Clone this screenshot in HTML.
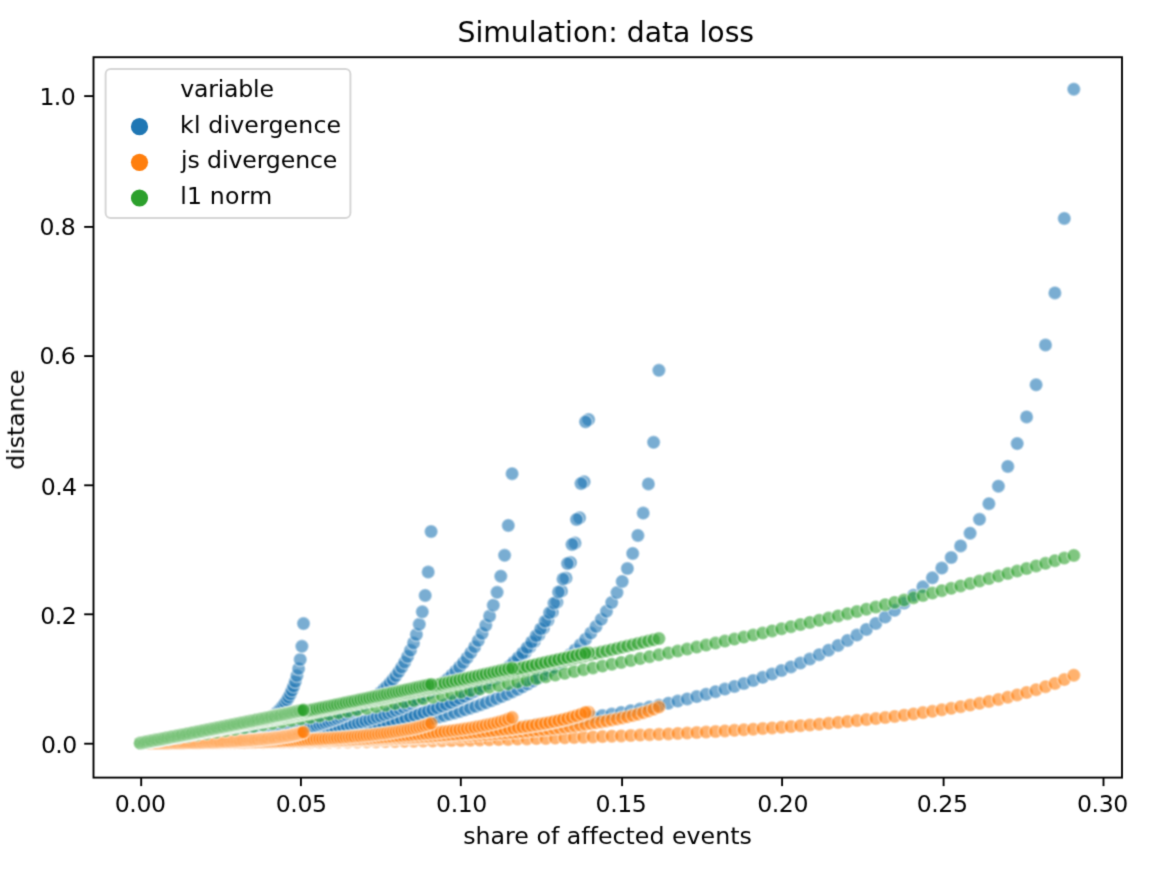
<!DOCTYPE html>
<html><head><meta charset="utf-8"><title>Simulation: data loss</title>
<style>
html,body{margin:0;padding:0;background:#fff;overflow:hidden}
svg{display:block}
text{font-family:"DejaVu Sans","Liberation Sans",sans-serif;fill:#000;font-variant-ligatures:none;font-feature-settings:"liga" 0,"clig" 0}
.t{letter-spacing:-.4px}
.u{letter-spacing:-.6px}
.k{fill:#1f77b4}.j{fill:#ff7f0e}.n{fill:#2ca02c}
g.pts circle{fill-opacity:.6;stroke:#fff;stroke-opacity:0.377;stroke-width:1.8}
</style></head><body>
<svg width="1166" height="872" viewBox="0 0 1166 872">
<defs>
<filter id="fp" x="0" y="0" width="1166" height="872" filterUnits="userSpaceOnUse" color-interpolation-filters="sRGB"><feConvolveMatrix order="3" kernelMatrix="0.06250 0.12500 0.06250 0.12500 0.25000 0.12500 0.06250 0.12500 0.06250" edgeMode="duplicate"/></filter>
<filter id="fa" x="0" y="0" width="1166" height="872" filterUnits="userSpaceOnUse" color-interpolation-filters="sRGB"><feConvolveMatrix order="3" kernelMatrix="0.02041 0.10204 0.02041 0.10204 0.51020 0.10204 0.02041 0.10204 0.02041" edgeMode="duplicate"/></filter>
</defs>
<rect width="1166" height="872" fill="#fff"/>

<g class="pts" filter="url(#fp)">
<g class="k">
<circle cx="140.4" cy="743.0" r="6.75"/>
<circle cx="149.8" cy="743.0" r="6.75"/>
<circle cx="159.3" cy="743.0" r="6.75"/>
<circle cx="168.7" cy="742.9" r="6.75"/>
<circle cx="178.1" cy="742.9" r="6.75"/>
<circle cx="187.5" cy="742.8" r="6.75"/>
<circle cx="197.0" cy="742.7" r="6.75"/>
<circle cx="206.4" cy="742.6" r="6.75"/>
<circle cx="215.8" cy="742.5" r="6.75"/>
<circle cx="225.3" cy="742.4" r="6.75"/>
<circle cx="234.7" cy="742.3" r="6.75"/>
<circle cx="244.1" cy="742.1" r="6.75"/>
<circle cx="253.5" cy="741.9" r="6.75"/>
<circle cx="263.0" cy="741.7" r="6.75"/>
<circle cx="272.4" cy="741.5" r="6.75"/>
<circle cx="281.8" cy="741.3" r="6.75"/>
<circle cx="291.2" cy="741.0" r="6.75"/>
<circle cx="300.7" cy="740.7" r="6.75"/>
<circle cx="310.1" cy="740.4" r="6.75"/>
<circle cx="319.5" cy="740.1" r="6.75"/>
<circle cx="329.0" cy="739.8" r="6.75"/>
<circle cx="338.4" cy="739.4" r="6.75"/>
<circle cx="347.8" cy="739.0" r="6.75"/>
<circle cx="357.2" cy="738.6" r="6.75"/>
<circle cx="366.7" cy="738.1" r="6.75"/>
<circle cx="376.1" cy="737.7" r="6.75"/>
<circle cx="385.5" cy="737.2" r="6.75"/>
<circle cx="395.0" cy="736.6" r="6.75"/>
<circle cx="404.4" cy="736.1" r="6.75"/>
<circle cx="413.8" cy="735.5" r="6.75"/>
<circle cx="423.2" cy="734.9" r="6.75"/>
<circle cx="432.7" cy="734.2" r="6.75"/>
<circle cx="442.1" cy="733.6" r="6.75"/>
<circle cx="451.5" cy="732.8" r="6.75"/>
<circle cx="461.0" cy="732.1" r="6.75"/>
<circle cx="470.4" cy="731.3" r="6.75"/>
<circle cx="479.8" cy="730.5" r="6.75"/>
<circle cx="489.2" cy="729.6" r="6.75"/>
<circle cx="498.7" cy="728.7" r="6.75"/>
<circle cx="508.1" cy="727.8" r="6.75"/>
<circle cx="517.5" cy="726.8" r="6.75"/>
<circle cx="526.9" cy="725.7" r="6.75"/>
<circle cx="536.4" cy="724.6" r="6.75"/>
<circle cx="545.8" cy="723.5" r="6.75"/>
<circle cx="555.2" cy="722.3" r="6.75"/>
<circle cx="564.7" cy="721.1" r="6.75"/>
<circle cx="574.1" cy="719.8" r="6.75"/>
<circle cx="583.5" cy="718.4" r="6.75"/>
<circle cx="592.9" cy="717.0" r="6.75"/>
<circle cx="602.4" cy="715.5" r="6.75"/>
<circle cx="611.8" cy="714.0" r="6.75"/>
<circle cx="621.2" cy="712.4" r="6.75"/>
<circle cx="630.7" cy="710.7" r="6.75"/>
<circle cx="640.1" cy="709.0" r="6.75"/>
<circle cx="649.5" cy="707.1" r="6.75"/>
<circle cx="658.9" cy="705.2" r="6.75"/>
<circle cx="668.4" cy="703.2" r="6.75"/>
<circle cx="677.8" cy="701.1" r="6.75"/>
<circle cx="687.2" cy="698.9" r="6.75"/>
<circle cx="696.7" cy="696.6" r="6.75"/>
<circle cx="706.1" cy="694.2" r="6.75"/>
<circle cx="715.5" cy="691.7" r="6.75"/>
<circle cx="724.9" cy="689.1" r="6.75"/>
<circle cx="734.4" cy="686.4" r="6.75"/>
<circle cx="743.8" cy="683.5" r="6.75"/>
<circle cx="753.2" cy="680.5" r="6.75"/>
<circle cx="762.7" cy="677.3" r="6.75"/>
<circle cx="772.1" cy="674.0" r="6.75"/>
<circle cx="781.5" cy="670.5" r="6.75"/>
<circle cx="790.9" cy="666.9" r="6.75"/>
<circle cx="800.4" cy="663.0" r="6.75"/>
<circle cx="809.8" cy="659.0" r="6.75"/>
<circle cx="819.2" cy="654.7" r="6.75"/>
<circle cx="828.6" cy="650.2" r="6.75"/>
<circle cx="838.1" cy="645.4" r="6.75"/>
<circle cx="847.5" cy="640.4" r="6.75"/>
<circle cx="856.9" cy="635.1" r="6.75"/>
<circle cx="866.4" cy="629.4" r="6.75"/>
<circle cx="875.8" cy="623.4" r="6.75"/>
<circle cx="885.2" cy="617.1" r="6.75"/>
<circle cx="894.6" cy="610.3" r="6.75"/>
<circle cx="904.1" cy="603.0" r="6.75"/>
<circle cx="913.5" cy="595.2" r="6.75"/>
<circle cx="922.9" cy="586.8" r="6.75"/>
<circle cx="932.4" cy="577.8" r="6.75"/>
<circle cx="941.8" cy="568.1" r="6.75"/>
<circle cx="951.2" cy="557.5" r="6.75"/>
<circle cx="960.6" cy="545.9" r="6.75"/>
<circle cx="970.1" cy="533.2" r="6.75"/>
<circle cx="979.5" cy="519.3" r="6.75"/>
<circle cx="988.9" cy="503.7" r="6.75"/>
<circle cx="998.4" cy="486.2" r="6.75"/>
<circle cx="1007.8" cy="466.4" r="6.75"/>
<circle cx="1017.2" cy="443.6" r="6.75"/>
<circle cx="1026.6" cy="416.9" r="6.75"/>
<circle cx="1036.1" cy="384.8" r="6.75"/>
<circle cx="1045.5" cy="345.0" r="6.75"/>
<circle cx="1054.9" cy="292.9" r="6.75"/>
<circle cx="1064.3" cy="218.4" r="6.75"/>
<circle cx="1073.8" cy="89.2" r="6.75"/>
<circle cx="140.4" cy="743.0" r="6.75"/>
<circle cx="145.6" cy="743.0" r="6.75"/>
<circle cx="150.9" cy="743.0" r="6.75"/>
<circle cx="156.1" cy="743.0" r="6.75"/>
<circle cx="161.3" cy="742.9" r="6.75"/>
<circle cx="166.6" cy="742.9" r="6.75"/>
<circle cx="171.8" cy="742.8" r="6.75"/>
<circle cx="177.1" cy="742.8" r="6.75"/>
<circle cx="182.3" cy="742.7" r="6.75"/>
<circle cx="187.5" cy="742.6" r="6.75"/>
<circle cx="192.8" cy="742.5" r="6.75"/>
<circle cx="198.0" cy="742.4" r="6.75"/>
<circle cx="203.2" cy="742.3" r="6.75"/>
<circle cx="208.5" cy="742.2" r="6.75"/>
<circle cx="213.7" cy="742.0" r="6.75"/>
<circle cx="219.0" cy="741.9" r="6.75"/>
<circle cx="224.2" cy="741.7" r="6.75"/>
<circle cx="229.4" cy="741.5" r="6.75"/>
<circle cx="234.7" cy="741.3" r="6.75"/>
<circle cx="239.9" cy="741.1" r="6.75"/>
<circle cx="245.1" cy="740.9" r="6.75"/>
<circle cx="250.4" cy="740.7" r="6.75"/>
<circle cx="255.6" cy="740.4" r="6.75"/>
<circle cx="260.9" cy="740.2" r="6.75"/>
<circle cx="266.1" cy="739.9" r="6.75"/>
<circle cx="271.3" cy="739.6" r="6.75"/>
<circle cx="276.6" cy="739.3" r="6.75"/>
<circle cx="281.8" cy="738.9" r="6.75"/>
<circle cx="287.0" cy="738.6" r="6.75"/>
<circle cx="292.3" cy="738.2" r="6.75"/>
<circle cx="297.5" cy="737.8" r="6.75"/>
<circle cx="302.7" cy="737.4" r="6.75"/>
<circle cx="308.0" cy="737.0" r="6.75"/>
<circle cx="313.2" cy="736.5" r="6.75"/>
<circle cx="318.5" cy="736.1" r="6.75"/>
<circle cx="323.7" cy="735.6" r="6.75"/>
<circle cx="328.9" cy="735.0" r="6.75"/>
<circle cx="334.2" cy="734.5" r="6.75"/>
<circle cx="339.4" cy="733.9" r="6.75"/>
<circle cx="344.6" cy="733.3" r="6.75"/>
<circle cx="349.9" cy="732.7" r="6.75"/>
<circle cx="355.1" cy="732.1" r="6.75"/>
<circle cx="360.4" cy="731.4" r="6.75"/>
<circle cx="365.6" cy="730.7" r="6.75"/>
<circle cx="370.8" cy="730.0" r="6.75"/>
<circle cx="376.1" cy="729.2" r="6.75"/>
<circle cx="381.3" cy="728.4" r="6.75"/>
<circle cx="386.5" cy="727.6" r="6.75"/>
<circle cx="391.8" cy="726.7" r="6.75"/>
<circle cx="397.0" cy="725.8" r="6.75"/>
<circle cx="402.3" cy="724.9" r="6.75"/>
<circle cx="407.5" cy="723.9" r="6.75"/>
<circle cx="412.7" cy="722.9" r="6.75"/>
<circle cx="418.0" cy="721.8" r="6.75"/>
<circle cx="423.2" cy="720.7" r="6.75"/>
<circle cx="428.4" cy="719.5" r="6.75"/>
<circle cx="433.7" cy="718.3" r="6.75"/>
<circle cx="438.9" cy="717.0" r="6.75"/>
<circle cx="444.2" cy="715.7" r="6.75"/>
<circle cx="449.4" cy="714.3" r="6.75"/>
<circle cx="454.6" cy="712.9" r="6.75"/>
<circle cx="459.9" cy="711.4" r="6.75"/>
<circle cx="465.1" cy="709.8" r="6.75"/>
<circle cx="470.3" cy="708.2" r="6.75"/>
<circle cx="475.6" cy="706.5" r="6.75"/>
<circle cx="480.8" cy="704.7" r="6.75"/>
<circle cx="486.0" cy="702.8" r="6.75"/>
<circle cx="491.3" cy="700.8" r="6.75"/>
<circle cx="496.5" cy="698.7" r="6.75"/>
<circle cx="501.8" cy="696.6" r="6.75"/>
<circle cx="507.0" cy="694.3" r="6.75"/>
<circle cx="512.2" cy="691.9" r="6.75"/>
<circle cx="517.5" cy="689.4" r="6.75"/>
<circle cx="522.7" cy="686.8" r="6.75"/>
<circle cx="527.9" cy="684.0" r="6.75"/>
<circle cx="533.2" cy="681.0" r="6.75"/>
<circle cx="538.4" cy="677.9" r="6.75"/>
<circle cx="543.7" cy="674.6" r="6.75"/>
<circle cx="548.9" cy="671.1" r="6.75"/>
<circle cx="554.1" cy="667.4" r="6.75"/>
<circle cx="559.4" cy="663.5" r="6.75"/>
<circle cx="564.6" cy="659.3" r="6.75"/>
<circle cx="569.8" cy="654.8" r="6.75"/>
<circle cx="575.1" cy="650.0" r="6.75"/>
<circle cx="580.3" cy="644.8" r="6.75"/>
<circle cx="585.6" cy="639.2" r="6.75"/>
<circle cx="590.8" cy="633.1" r="6.75"/>
<circle cx="596.0" cy="626.5" r="6.75"/>
<circle cx="601.3" cy="619.3" r="6.75"/>
<circle cx="606.5" cy="611.3" r="6.75"/>
<circle cx="611.7" cy="602.5" r="6.75"/>
<circle cx="617.0" cy="592.6" r="6.75"/>
<circle cx="622.2" cy="581.4" r="6.75"/>
<circle cx="627.4" cy="568.5" r="6.75"/>
<circle cx="632.7" cy="553.4" r="6.75"/>
<circle cx="637.9" cy="535.4" r="6.75"/>
<circle cx="643.2" cy="513.1" r="6.75"/>
<circle cx="648.4" cy="483.9" r="6.75"/>
<circle cx="653.6" cy="442.3" r="6.75"/>
<circle cx="658.9" cy="370.3" r="6.75"/>
<circle cx="140.4" cy="743.0" r="6.75"/>
<circle cx="144.9" cy="743.0" r="6.75"/>
<circle cx="149.5" cy="743.0" r="6.75"/>
<circle cx="154.0" cy="743.0" r="6.75"/>
<circle cx="158.5" cy="742.9" r="6.75"/>
<circle cx="163.0" cy="742.9" r="6.75"/>
<circle cx="167.6" cy="742.9" r="6.75"/>
<circle cx="172.1" cy="742.8" r="6.75"/>
<circle cx="176.6" cy="742.7" r="6.75"/>
<circle cx="181.1" cy="742.7" r="6.75"/>
<circle cx="185.7" cy="742.6" r="6.75"/>
<circle cx="190.2" cy="742.5" r="6.75"/>
<circle cx="194.7" cy="742.4" r="6.75"/>
<circle cx="199.3" cy="742.3" r="6.75"/>
<circle cx="203.8" cy="742.1" r="6.75"/>
<circle cx="208.3" cy="742.0" r="6.75"/>
<circle cx="212.8" cy="741.9" r="6.75"/>
<circle cx="217.4" cy="741.7" r="6.75"/>
<circle cx="221.9" cy="741.5" r="6.75"/>
<circle cx="226.4" cy="741.3" r="6.75"/>
<circle cx="231.0" cy="741.1" r="6.75"/>
<circle cx="235.5" cy="740.9" r="6.75"/>
<circle cx="240.0" cy="740.7" r="6.75"/>
<circle cx="244.5" cy="740.5" r="6.75"/>
<circle cx="249.1" cy="740.2" r="6.75"/>
<circle cx="253.6" cy="740.0" r="6.75"/>
<circle cx="258.1" cy="739.7" r="6.75"/>
<circle cx="262.6" cy="739.4" r="6.75"/>
<circle cx="267.2" cy="739.1" r="6.75"/>
<circle cx="271.7" cy="738.8" r="6.75"/>
<circle cx="276.2" cy="738.4" r="6.75"/>
<circle cx="280.8" cy="738.1" r="6.75"/>
<circle cx="285.3" cy="737.7" r="6.75"/>
<circle cx="289.8" cy="737.3" r="6.75"/>
<circle cx="294.3" cy="736.9" r="6.75"/>
<circle cx="298.9" cy="736.4" r="6.75"/>
<circle cx="303.4" cy="736.0" r="6.75"/>
<circle cx="307.9" cy="735.5" r="6.75"/>
<circle cx="312.4" cy="735.0" r="6.75"/>
<circle cx="317.0" cy="734.5" r="6.75"/>
<circle cx="321.5" cy="733.9" r="6.75"/>
<circle cx="326.0" cy="733.4" r="6.75"/>
<circle cx="330.6" cy="732.8" r="6.75"/>
<circle cx="335.1" cy="732.2" r="6.75"/>
<circle cx="339.6" cy="731.5" r="6.75"/>
<circle cx="344.1" cy="730.9" r="6.75"/>
<circle cx="348.7" cy="730.2" r="6.75"/>
<circle cx="353.2" cy="729.4" r="6.75"/>
<circle cx="357.7" cy="728.7" r="6.75"/>
<circle cx="362.3" cy="727.9" r="6.75"/>
<circle cx="366.8" cy="727.0" r="6.75"/>
<circle cx="371.3" cy="726.2" r="6.75"/>
<circle cx="375.8" cy="725.3" r="6.75"/>
<circle cx="380.4" cy="724.3" r="6.75"/>
<circle cx="384.9" cy="723.4" r="6.75"/>
<circle cx="389.4" cy="722.3" r="6.75"/>
<circle cx="393.9" cy="721.3" r="6.75"/>
<circle cx="398.5" cy="720.2" r="6.75"/>
<circle cx="403.0" cy="719.0" r="6.75"/>
<circle cx="407.5" cy="717.8" r="6.75"/>
<circle cx="412.1" cy="716.6" r="6.75"/>
<circle cx="416.6" cy="715.2" r="6.75"/>
<circle cx="421.1" cy="713.9" r="6.75"/>
<circle cx="425.6" cy="712.4" r="6.75"/>
<circle cx="430.2" cy="710.9" r="6.75"/>
<circle cx="434.7" cy="709.4" r="6.75"/>
<circle cx="439.2" cy="707.7" r="6.75"/>
<circle cx="443.7" cy="706.0" r="6.75"/>
<circle cx="448.3" cy="704.2" r="6.75"/>
<circle cx="452.8" cy="702.3" r="6.75"/>
<circle cx="457.3" cy="700.3" r="6.75"/>
<circle cx="461.9" cy="698.2" r="6.75"/>
<circle cx="466.4" cy="696.0" r="6.75"/>
<circle cx="470.9" cy="693.7" r="6.75"/>
<circle cx="475.4" cy="691.3" r="6.75"/>
<circle cx="480.0" cy="688.7" r="6.75"/>
<circle cx="484.5" cy="686.0" r="6.75"/>
<circle cx="489.0" cy="683.2" r="6.75"/>
<circle cx="493.6" cy="680.1" r="6.75"/>
<circle cx="498.1" cy="676.9" r="6.75"/>
<circle cx="502.6" cy="673.5" r="6.75"/>
<circle cx="507.1" cy="669.8" r="6.75"/>
<circle cx="511.7" cy="665.9" r="6.75"/>
<circle cx="516.2" cy="661.7" r="6.75"/>
<circle cx="520.7" cy="657.2" r="6.75"/>
<circle cx="525.2" cy="652.4" r="6.75"/>
<circle cx="529.8" cy="647.1" r="6.75"/>
<circle cx="534.3" cy="641.4" r="6.75"/>
<circle cx="538.8" cy="635.1" r="6.75"/>
<circle cx="543.4" cy="628.2" r="6.75"/>
<circle cx="547.9" cy="620.5" r="6.75"/>
<circle cx="552.4" cy="611.9" r="6.75"/>
<circle cx="556.9" cy="602.2" r="6.75"/>
<circle cx="561.5" cy="591.1" r="6.75"/>
<circle cx="566.0" cy="578.0" r="6.75"/>
<circle cx="570.5" cy="562.4" r="6.75"/>
<circle cx="575.0" cy="543.1" r="6.75"/>
<circle cx="579.6" cy="517.8" r="6.75"/>
<circle cx="584.1" cy="481.8" r="6.75"/>
<circle cx="588.6" cy="419.6" r="6.75"/>
<circle cx="140.4" cy="743.0" r="6.75"/>
<circle cx="144.9" cy="743.0" r="6.75"/>
<circle cx="149.4" cy="743.0" r="6.75"/>
<circle cx="153.9" cy="743.0" r="6.75"/>
<circle cx="158.4" cy="742.9" r="6.75"/>
<circle cx="162.9" cy="742.9" r="6.75"/>
<circle cx="167.4" cy="742.9" r="6.75"/>
<circle cx="171.9" cy="742.8" r="6.75"/>
<circle cx="176.4" cy="742.7" r="6.75"/>
<circle cx="180.9" cy="742.7" r="6.75"/>
<circle cx="185.4" cy="742.6" r="6.75"/>
<circle cx="189.9" cy="742.5" r="6.75"/>
<circle cx="194.4" cy="742.4" r="6.75"/>
<circle cx="198.8" cy="742.3" r="6.75"/>
<circle cx="203.3" cy="742.1" r="6.75"/>
<circle cx="207.8" cy="742.0" r="6.75"/>
<circle cx="212.3" cy="741.9" r="6.75"/>
<circle cx="216.8" cy="741.7" r="6.75"/>
<circle cx="221.3" cy="741.5" r="6.75"/>
<circle cx="225.8" cy="741.4" r="6.75"/>
<circle cx="230.3" cy="741.2" r="6.75"/>
<circle cx="234.8" cy="741.0" r="6.75"/>
<circle cx="239.3" cy="740.7" r="6.75"/>
<circle cx="243.8" cy="740.5" r="6.75"/>
<circle cx="248.3" cy="740.2" r="6.75"/>
<circle cx="252.8" cy="740.0" r="6.75"/>
<circle cx="257.3" cy="739.7" r="6.75"/>
<circle cx="261.8" cy="739.4" r="6.75"/>
<circle cx="266.3" cy="739.1" r="6.75"/>
<circle cx="270.8" cy="738.8" r="6.75"/>
<circle cx="275.3" cy="738.4" r="6.75"/>
<circle cx="279.8" cy="738.1" r="6.75"/>
<circle cx="284.3" cy="737.7" r="6.75"/>
<circle cx="288.8" cy="737.3" r="6.75"/>
<circle cx="293.3" cy="736.9" r="6.75"/>
<circle cx="297.8" cy="736.5" r="6.75"/>
<circle cx="302.3" cy="736.0" r="6.75"/>
<circle cx="306.8" cy="735.5" r="6.75"/>
<circle cx="311.3" cy="735.1" r="6.75"/>
<circle cx="315.7" cy="734.5" r="6.75"/>
<circle cx="320.2" cy="734.0" r="6.75"/>
<circle cx="324.7" cy="733.4" r="6.75"/>
<circle cx="329.2" cy="732.8" r="6.75"/>
<circle cx="333.7" cy="732.2" r="6.75"/>
<circle cx="338.2" cy="731.6" r="6.75"/>
<circle cx="342.7" cy="730.9" r="6.75"/>
<circle cx="347.2" cy="730.2" r="6.75"/>
<circle cx="351.7" cy="729.5" r="6.75"/>
<circle cx="356.2" cy="728.7" r="6.75"/>
<circle cx="360.7" cy="728.0" r="6.75"/>
<circle cx="365.2" cy="727.1" r="6.75"/>
<circle cx="369.7" cy="726.3" r="6.75"/>
<circle cx="374.2" cy="725.4" r="6.75"/>
<circle cx="378.7" cy="724.5" r="6.75"/>
<circle cx="383.2" cy="723.5" r="6.75"/>
<circle cx="387.7" cy="722.5" r="6.75"/>
<circle cx="392.2" cy="721.4" r="6.75"/>
<circle cx="396.7" cy="720.3" r="6.75"/>
<circle cx="401.2" cy="719.2" r="6.75"/>
<circle cx="405.7" cy="718.0" r="6.75"/>
<circle cx="410.2" cy="716.7" r="6.75"/>
<circle cx="414.7" cy="715.4" r="6.75"/>
<circle cx="419.2" cy="714.0" r="6.75"/>
<circle cx="423.7" cy="712.6" r="6.75"/>
<circle cx="428.2" cy="711.1" r="6.75"/>
<circle cx="432.6" cy="709.6" r="6.75"/>
<circle cx="437.1" cy="707.9" r="6.75"/>
<circle cx="441.6" cy="706.2" r="6.75"/>
<circle cx="446.1" cy="704.4" r="6.75"/>
<circle cx="450.6" cy="702.6" r="6.75"/>
<circle cx="455.1" cy="700.6" r="6.75"/>
<circle cx="459.6" cy="698.5" r="6.75"/>
<circle cx="464.1" cy="696.3" r="6.75"/>
<circle cx="468.6" cy="694.1" r="6.75"/>
<circle cx="473.1" cy="691.6" r="6.75"/>
<circle cx="477.6" cy="689.1" r="6.75"/>
<circle cx="482.1" cy="686.4" r="6.75"/>
<circle cx="486.6" cy="683.6" r="6.75"/>
<circle cx="491.1" cy="680.5" r="6.75"/>
<circle cx="495.6" cy="677.3" r="6.75"/>
<circle cx="500.1" cy="673.9" r="6.75"/>
<circle cx="504.6" cy="670.3" r="6.75"/>
<circle cx="509.1" cy="666.4" r="6.75"/>
<circle cx="513.6" cy="662.3" r="6.75"/>
<circle cx="518.1" cy="657.8" r="6.75"/>
<circle cx="522.6" cy="653.0" r="6.75"/>
<circle cx="527.1" cy="647.7" r="6.75"/>
<circle cx="531.6" cy="642.0" r="6.75"/>
<circle cx="536.1" cy="635.8" r="6.75"/>
<circle cx="540.6" cy="628.9" r="6.75"/>
<circle cx="545.1" cy="621.3" r="6.75"/>
<circle cx="549.5" cy="612.8" r="6.75"/>
<circle cx="554.0" cy="603.2" r="6.75"/>
<circle cx="558.5" cy="592.1" r="6.75"/>
<circle cx="563.0" cy="579.1" r="6.75"/>
<circle cx="567.5" cy="563.6" r="6.75"/>
<circle cx="572.0" cy="544.4" r="6.75"/>
<circle cx="576.5" cy="519.4" r="6.75"/>
<circle cx="581.0" cy="483.6" r="6.75"/>
<circle cx="585.5" cy="421.8" r="6.75"/>
<circle cx="140.4" cy="743.0" r="6.75"/>
<circle cx="144.2" cy="743.0" r="6.75"/>
<circle cx="147.9" cy="743.0" r="6.75"/>
<circle cx="151.7" cy="743.0" r="6.75"/>
<circle cx="155.4" cy="742.9" r="6.75"/>
<circle cx="159.2" cy="742.9" r="6.75"/>
<circle cx="162.9" cy="742.9" r="6.75"/>
<circle cx="166.7" cy="742.8" r="6.75"/>
<circle cx="170.4" cy="742.8" r="6.75"/>
<circle cx="174.2" cy="742.7" r="6.75"/>
<circle cx="177.9" cy="742.6" r="6.75"/>
<circle cx="181.7" cy="742.6" r="6.75"/>
<circle cx="185.5" cy="742.5" r="6.75"/>
<circle cx="189.2" cy="742.4" r="6.75"/>
<circle cx="193.0" cy="742.3" r="6.75"/>
<circle cx="196.7" cy="742.2" r="6.75"/>
<circle cx="200.5" cy="742.0" r="6.75"/>
<circle cx="204.2" cy="741.9" r="6.75"/>
<circle cx="208.0" cy="741.7" r="6.75"/>
<circle cx="211.7" cy="741.6" r="6.75"/>
<circle cx="215.5" cy="741.4" r="6.75"/>
<circle cx="219.2" cy="741.2" r="6.75"/>
<circle cx="223.0" cy="741.1" r="6.75"/>
<circle cx="226.8" cy="740.9" r="6.75"/>
<circle cx="230.5" cy="740.7" r="6.75"/>
<circle cx="234.3" cy="740.4" r="6.75"/>
<circle cx="238.0" cy="740.2" r="6.75"/>
<circle cx="241.8" cy="739.9" r="6.75"/>
<circle cx="245.5" cy="739.7" r="6.75"/>
<circle cx="249.3" cy="739.4" r="6.75"/>
<circle cx="253.0" cy="739.1" r="6.75"/>
<circle cx="256.8" cy="738.8" r="6.75"/>
<circle cx="260.5" cy="738.5" r="6.75"/>
<circle cx="264.3" cy="738.2" r="6.75"/>
<circle cx="268.1" cy="737.8" r="6.75"/>
<circle cx="271.8" cy="737.4" r="6.75"/>
<circle cx="275.6" cy="737.1" r="6.75"/>
<circle cx="279.3" cy="736.6" r="6.75"/>
<circle cx="283.1" cy="736.2" r="6.75"/>
<circle cx="286.8" cy="735.8" r="6.75"/>
<circle cx="290.6" cy="735.3" r="6.75"/>
<circle cx="294.3" cy="734.9" r="6.75"/>
<circle cx="298.1" cy="734.4" r="6.75"/>
<circle cx="301.8" cy="733.8" r="6.75"/>
<circle cx="305.6" cy="733.3" r="6.75"/>
<circle cx="309.4" cy="732.7" r="6.75"/>
<circle cx="313.1" cy="732.1" r="6.75"/>
<circle cx="316.9" cy="731.5" r="6.75"/>
<circle cx="320.6" cy="730.9" r="6.75"/>
<circle cx="324.4" cy="730.2" r="6.75"/>
<circle cx="328.1" cy="729.5" r="6.75"/>
<circle cx="331.9" cy="728.8" r="6.75"/>
<circle cx="335.6" cy="728.0" r="6.75"/>
<circle cx="339.4" cy="727.2" r="6.75"/>
<circle cx="343.1" cy="726.4" r="6.75"/>
<circle cx="346.9" cy="725.6" r="6.75"/>
<circle cx="350.7" cy="724.7" r="6.75"/>
<circle cx="354.4" cy="723.7" r="6.75"/>
<circle cx="358.2" cy="722.8" r="6.75"/>
<circle cx="361.9" cy="721.8" r="6.75"/>
<circle cx="365.7" cy="720.7" r="6.75"/>
<circle cx="369.4" cy="719.6" r="6.75"/>
<circle cx="373.2" cy="718.4" r="6.75"/>
<circle cx="376.9" cy="717.2" r="6.75"/>
<circle cx="380.7" cy="716.0" r="6.75"/>
<circle cx="384.4" cy="714.7" r="6.75"/>
<circle cx="388.2" cy="713.3" r="6.75"/>
<circle cx="392.0" cy="711.9" r="6.75"/>
<circle cx="395.7" cy="710.3" r="6.75"/>
<circle cx="399.5" cy="708.8" r="6.75"/>
<circle cx="403.2" cy="707.1" r="6.75"/>
<circle cx="407.0" cy="705.4" r="6.75"/>
<circle cx="410.7" cy="703.5" r="6.75"/>
<circle cx="414.5" cy="701.6" r="6.75"/>
<circle cx="418.2" cy="699.6" r="6.75"/>
<circle cx="422.0" cy="697.4" r="6.75"/>
<circle cx="425.7" cy="695.2" r="6.75"/>
<circle cx="429.5" cy="692.8" r="6.75"/>
<circle cx="433.3" cy="690.2" r="6.75"/>
<circle cx="437.0" cy="687.5" r="6.75"/>
<circle cx="440.8" cy="684.7" r="6.75"/>
<circle cx="444.5" cy="681.6" r="6.75"/>
<circle cx="448.3" cy="678.4" r="6.75"/>
<circle cx="452.0" cy="674.9" r="6.75"/>
<circle cx="455.8" cy="671.1" r="6.75"/>
<circle cx="459.5" cy="667.1" r="6.75"/>
<circle cx="463.3" cy="662.7" r="6.75"/>
<circle cx="467.0" cy="657.9" r="6.75"/>
<circle cx="470.8" cy="652.7" r="6.75"/>
<circle cx="474.6" cy="646.9" r="6.75"/>
<circle cx="478.3" cy="640.6" r="6.75"/>
<circle cx="482.1" cy="633.4" r="6.75"/>
<circle cx="485.8" cy="625.3" r="6.75"/>
<circle cx="489.6" cy="616.1" r="6.75"/>
<circle cx="493.3" cy="605.2" r="6.75"/>
<circle cx="497.1" cy="592.3" r="6.75"/>
<circle cx="500.8" cy="576.2" r="6.75"/>
<circle cx="504.6" cy="555.3" r="6.75"/>
<circle cx="508.3" cy="525.4" r="6.75"/>
<circle cx="512.1" cy="473.7" r="6.75"/>
<circle cx="140.4" cy="743.0" r="6.75"/>
<circle cx="143.3" cy="743.0" r="6.75"/>
<circle cx="146.3" cy="743.0" r="6.75"/>
<circle cx="149.2" cy="743.0" r="6.75"/>
<circle cx="152.1" cy="743.0" r="6.75"/>
<circle cx="155.1" cy="742.9" r="6.75"/>
<circle cx="158.0" cy="742.9" r="6.75"/>
<circle cx="161.0" cy="742.9" r="6.75"/>
<circle cx="163.9" cy="742.8" r="6.75"/>
<circle cx="166.8" cy="742.8" r="6.75"/>
<circle cx="169.8" cy="742.7" r="6.75"/>
<circle cx="172.7" cy="742.6" r="6.75"/>
<circle cx="175.6" cy="742.6" r="6.75"/>
<circle cx="178.6" cy="742.5" r="6.75"/>
<circle cx="181.5" cy="742.4" r="6.75"/>
<circle cx="184.4" cy="742.3" r="6.75"/>
<circle cx="187.4" cy="742.2" r="6.75"/>
<circle cx="190.3" cy="742.1" r="6.75"/>
<circle cx="193.3" cy="742.0" r="6.75"/>
<circle cx="196.2" cy="741.9" r="6.75"/>
<circle cx="199.1" cy="741.7" r="6.75"/>
<circle cx="202.1" cy="741.6" r="6.75"/>
<circle cx="205.0" cy="741.4" r="6.75"/>
<circle cx="207.9" cy="741.3" r="6.75"/>
<circle cx="210.9" cy="741.1" r="6.75"/>
<circle cx="213.8" cy="740.9" r="6.75"/>
<circle cx="216.7" cy="740.7" r="6.75"/>
<circle cx="219.7" cy="740.6" r="6.75"/>
<circle cx="222.6" cy="740.3" r="6.75"/>
<circle cx="225.6" cy="740.1" r="6.75"/>
<circle cx="228.5" cy="739.9" r="6.75"/>
<circle cx="231.4" cy="739.6" r="6.75"/>
<circle cx="234.4" cy="739.4" r="6.75"/>
<circle cx="237.3" cy="739.1" r="6.75"/>
<circle cx="240.2" cy="738.8" r="6.75"/>
<circle cx="243.2" cy="738.6" r="6.75"/>
<circle cx="246.1" cy="738.2" r="6.75"/>
<circle cx="249.0" cy="737.9" r="6.75"/>
<circle cx="252.0" cy="737.6" r="6.75"/>
<circle cx="254.9" cy="737.2" r="6.75"/>
<circle cx="257.8" cy="736.9" r="6.75"/>
<circle cx="260.8" cy="736.5" r="6.75"/>
<circle cx="263.7" cy="736.1" r="6.75"/>
<circle cx="266.7" cy="735.7" r="6.75"/>
<circle cx="269.6" cy="735.3" r="6.75"/>
<circle cx="272.5" cy="734.8" r="6.75"/>
<circle cx="275.5" cy="734.3" r="6.75"/>
<circle cx="278.4" cy="733.8" r="6.75"/>
<circle cx="281.3" cy="733.3" r="6.75"/>
<circle cx="284.3" cy="732.8" r="6.75"/>
<circle cx="287.2" cy="732.3" r="6.75"/>
<circle cx="290.1" cy="731.7" r="6.75"/>
<circle cx="293.1" cy="731.1" r="6.75"/>
<circle cx="296.0" cy="730.4" r="6.75"/>
<circle cx="299.0" cy="729.8" r="6.75"/>
<circle cx="301.9" cy="729.1" r="6.75"/>
<circle cx="304.8" cy="728.4" r="6.75"/>
<circle cx="307.8" cy="727.7" r="6.75"/>
<circle cx="310.7" cy="726.9" r="6.75"/>
<circle cx="313.6" cy="726.1" r="6.75"/>
<circle cx="316.6" cy="725.3" r="6.75"/>
<circle cx="319.5" cy="724.4" r="6.75"/>
<circle cx="322.4" cy="723.5" r="6.75"/>
<circle cx="325.4" cy="722.5" r="6.75"/>
<circle cx="328.3" cy="721.5" r="6.75"/>
<circle cx="331.3" cy="720.5" r="6.75"/>
<circle cx="334.2" cy="719.4" r="6.75"/>
<circle cx="337.1" cy="718.3" r="6.75"/>
<circle cx="340.1" cy="717.1" r="6.75"/>
<circle cx="343.0" cy="715.8" r="6.75"/>
<circle cx="345.9" cy="714.5" r="6.75"/>
<circle cx="348.9" cy="713.1" r="6.75"/>
<circle cx="351.8" cy="711.7" r="6.75"/>
<circle cx="354.7" cy="710.2" r="6.75"/>
<circle cx="357.7" cy="708.6" r="6.75"/>
<circle cx="360.6" cy="706.9" r="6.75"/>
<circle cx="363.6" cy="705.1" r="6.75"/>
<circle cx="366.5" cy="703.2" r="6.75"/>
<circle cx="369.4" cy="701.2" r="6.75"/>
<circle cx="372.4" cy="699.1" r="6.75"/>
<circle cx="375.3" cy="696.8" r="6.75"/>
<circle cx="378.2" cy="694.4" r="6.75"/>
<circle cx="381.2" cy="691.9" r="6.75"/>
<circle cx="384.1" cy="689.1" r="6.75"/>
<circle cx="387.0" cy="686.2" r="6.75"/>
<circle cx="390.0" cy="683.0" r="6.75"/>
<circle cx="392.9" cy="679.6" r="6.75"/>
<circle cx="395.9" cy="675.8" r="6.75"/>
<circle cx="398.8" cy="671.7" r="6.75"/>
<circle cx="401.7" cy="667.2" r="6.75"/>
<circle cx="404.7" cy="662.2" r="6.75"/>
<circle cx="407.6" cy="656.6" r="6.75"/>
<circle cx="410.5" cy="650.3" r="6.75"/>
<circle cx="413.5" cy="643.0" r="6.75"/>
<circle cx="416.4" cy="634.5" r="6.75"/>
<circle cx="419.3" cy="624.3" r="6.75"/>
<circle cx="422.3" cy="611.8" r="6.75"/>
<circle cx="425.2" cy="595.4" r="6.75"/>
<circle cx="428.2" cy="572.0" r="6.75"/>
<circle cx="431.1" cy="531.5" r="6.75"/>
<circle cx="140.4" cy="743.0" r="6.75"/>
<circle cx="142.0" cy="743.0" r="6.75"/>
<circle cx="143.7" cy="743.0" r="6.75"/>
<circle cx="145.3" cy="743.0" r="6.75"/>
<circle cx="147.0" cy="743.0" r="6.75"/>
<circle cx="148.6" cy="743.0" r="6.75"/>
<circle cx="150.3" cy="742.9" r="6.75"/>
<circle cx="151.9" cy="742.9" r="6.75"/>
<circle cx="153.6" cy="742.9" r="6.75"/>
<circle cx="155.2" cy="742.9" r="6.75"/>
<circle cx="156.9" cy="742.8" r="6.75"/>
<circle cx="158.5" cy="742.8" r="6.75"/>
<circle cx="160.2" cy="742.8" r="6.75"/>
<circle cx="161.8" cy="742.7" r="6.75"/>
<circle cx="163.5" cy="742.7" r="6.75"/>
<circle cx="165.1" cy="742.6" r="6.75"/>
<circle cx="166.8" cy="742.5" r="6.75"/>
<circle cx="168.4" cy="742.5" r="6.75"/>
<circle cx="170.1" cy="742.4" r="6.75"/>
<circle cx="171.7" cy="742.3" r="6.75"/>
<circle cx="173.4" cy="742.3" r="6.75"/>
<circle cx="175.0" cy="742.2" r="6.75"/>
<circle cx="176.7" cy="742.1" r="6.75"/>
<circle cx="178.3" cy="742.0" r="6.75"/>
<circle cx="179.9" cy="741.9" r="6.75"/>
<circle cx="181.6" cy="741.8" r="6.75"/>
<circle cx="183.2" cy="741.7" r="6.75"/>
<circle cx="184.9" cy="741.6" r="6.75"/>
<circle cx="186.5" cy="741.5" r="6.75"/>
<circle cx="188.2" cy="741.3" r="6.75"/>
<circle cx="189.8" cy="741.2" r="6.75"/>
<circle cx="191.5" cy="741.1" r="6.75"/>
<circle cx="193.1" cy="740.9" r="6.75"/>
<circle cx="194.8" cy="740.7" r="6.75"/>
<circle cx="196.4" cy="740.6" r="6.75"/>
<circle cx="198.1" cy="740.4" r="6.75"/>
<circle cx="199.7" cy="740.2" r="6.75"/>
<circle cx="201.4" cy="740.1" r="6.75"/>
<circle cx="203.0" cy="739.9" r="6.75"/>
<circle cx="204.7" cy="739.7" r="6.75"/>
<circle cx="206.3" cy="739.5" r="6.75"/>
<circle cx="208.0" cy="739.2" r="6.75"/>
<circle cx="209.6" cy="739.0" r="6.75"/>
<circle cx="211.3" cy="738.8" r="6.75"/>
<circle cx="212.9" cy="738.5" r="6.75"/>
<circle cx="214.6" cy="738.3" r="6.75"/>
<circle cx="216.2" cy="738.0" r="6.75"/>
<circle cx="217.8" cy="737.7" r="6.75"/>
<circle cx="219.5" cy="737.4" r="6.75"/>
<circle cx="221.1" cy="737.1" r="6.75"/>
<circle cx="222.8" cy="736.8" r="6.75"/>
<circle cx="224.4" cy="736.5" r="6.75"/>
<circle cx="226.1" cy="736.1" r="6.75"/>
<circle cx="227.7" cy="735.8" r="6.75"/>
<circle cx="229.4" cy="735.4" r="6.75"/>
<circle cx="231.0" cy="735.0" r="6.75"/>
<circle cx="232.7" cy="734.6" r="6.75"/>
<circle cx="234.3" cy="734.2" r="6.75"/>
<circle cx="236.0" cy="733.7" r="6.75"/>
<circle cx="237.6" cy="733.3" r="6.75"/>
<circle cx="239.3" cy="732.8" r="6.75"/>
<circle cx="240.9" cy="732.3" r="6.75"/>
<circle cx="242.6" cy="731.8" r="6.75"/>
<circle cx="244.2" cy="731.2" r="6.75"/>
<circle cx="245.9" cy="730.7" r="6.75"/>
<circle cx="247.5" cy="730.1" r="6.75"/>
<circle cx="249.2" cy="729.4" r="6.75"/>
<circle cx="250.8" cy="728.8" r="6.75"/>
<circle cx="252.5" cy="728.1" r="6.75"/>
<circle cx="254.1" cy="727.4" r="6.75"/>
<circle cx="255.7" cy="726.7" r="6.75"/>
<circle cx="257.4" cy="725.9" r="6.75"/>
<circle cx="259.0" cy="725.1" r="6.75"/>
<circle cx="260.7" cy="724.2" r="6.75"/>
<circle cx="262.3" cy="723.3" r="6.75"/>
<circle cx="264.0" cy="722.3" r="6.75"/>
<circle cx="265.6" cy="721.3" r="6.75"/>
<circle cx="267.3" cy="720.2" r="6.75"/>
<circle cx="268.9" cy="719.1" r="6.75"/>
<circle cx="270.6" cy="717.9" r="6.75"/>
<circle cx="272.2" cy="716.6" r="6.75"/>
<circle cx="273.9" cy="715.3" r="6.75"/>
<circle cx="275.5" cy="713.8" r="6.75"/>
<circle cx="277.2" cy="712.3" r="6.75"/>
<circle cx="278.8" cy="710.6" r="6.75"/>
<circle cx="280.5" cy="708.8" r="6.75"/>
<circle cx="282.1" cy="706.9" r="6.75"/>
<circle cx="283.8" cy="704.7" r="6.75"/>
<circle cx="285.4" cy="702.4" r="6.75"/>
<circle cx="287.1" cy="699.9" r="6.75"/>
<circle cx="288.7" cy="697.1" r="6.75"/>
<circle cx="290.4" cy="693.9" r="6.75"/>
<circle cx="292.0" cy="690.3" r="6.75"/>
<circle cx="293.6" cy="686.2" r="6.75"/>
<circle cx="295.3" cy="681.5" r="6.75"/>
<circle cx="296.9" cy="675.7" r="6.75"/>
<circle cx="298.6" cy="668.7" r="6.75"/>
<circle cx="300.2" cy="659.5" r="6.75"/>
<circle cx="301.9" cy="646.3" r="6.75"/>
<circle cx="303.5" cy="623.6" r="6.75"/>
</g>
<g class="j">
<circle cx="140.4" cy="743.0" r="6.75"/>
<circle cx="149.8" cy="743.0" r="6.75"/>
<circle cx="159.3" cy="743.0" r="6.75"/>
<circle cx="168.7" cy="743.0" r="6.75"/>
<circle cx="178.1" cy="743.0" r="6.75"/>
<circle cx="187.5" cy="743.0" r="6.75"/>
<circle cx="197.0" cy="742.9" r="6.75"/>
<circle cx="206.4" cy="742.9" r="6.75"/>
<circle cx="215.8" cy="742.9" r="6.75"/>
<circle cx="225.3" cy="742.9" r="6.75"/>
<circle cx="234.7" cy="742.8" r="6.75"/>
<circle cx="244.1" cy="742.8" r="6.75"/>
<circle cx="253.5" cy="742.7" r="6.75"/>
<circle cx="263.0" cy="742.7" r="6.75"/>
<circle cx="272.4" cy="742.6" r="6.75"/>
<circle cx="281.8" cy="742.6" r="6.75"/>
<circle cx="291.2" cy="742.5" r="6.75"/>
<circle cx="300.7" cy="742.4" r="6.75"/>
<circle cx="310.1" cy="742.4" r="6.75"/>
<circle cx="319.5" cy="742.3" r="6.75"/>
<circle cx="329.0" cy="742.2" r="6.75"/>
<circle cx="338.4" cy="742.1" r="6.75"/>
<circle cx="347.8" cy="742.0" r="6.75"/>
<circle cx="357.2" cy="741.9" r="6.75"/>
<circle cx="366.7" cy="741.8" r="6.75"/>
<circle cx="376.1" cy="741.7" r="6.75"/>
<circle cx="385.5" cy="741.6" r="6.75"/>
<circle cx="395.0" cy="741.5" r="6.75"/>
<circle cx="404.4" cy="741.3" r="6.75"/>
<circle cx="413.8" cy="741.2" r="6.75"/>
<circle cx="423.2" cy="741.0" r="6.75"/>
<circle cx="432.7" cy="740.9" r="6.75"/>
<circle cx="442.1" cy="740.7" r="6.75"/>
<circle cx="451.5" cy="740.5" r="6.75"/>
<circle cx="461.0" cy="740.4" r="6.75"/>
<circle cx="470.4" cy="740.2" r="6.75"/>
<circle cx="479.8" cy="740.0" r="6.75"/>
<circle cx="489.2" cy="739.8" r="6.75"/>
<circle cx="498.7" cy="739.6" r="6.75"/>
<circle cx="508.1" cy="739.4" r="6.75"/>
<circle cx="517.5" cy="739.1" r="6.75"/>
<circle cx="526.9" cy="738.9" r="6.75"/>
<circle cx="536.4" cy="738.6" r="6.75"/>
<circle cx="545.8" cy="738.4" r="6.75"/>
<circle cx="555.2" cy="738.1" r="6.75"/>
<circle cx="564.7" cy="737.8" r="6.75"/>
<circle cx="574.1" cy="737.5" r="6.75"/>
<circle cx="583.5" cy="737.2" r="6.75"/>
<circle cx="592.9" cy="736.9" r="6.75"/>
<circle cx="602.4" cy="736.6" r="6.75"/>
<circle cx="611.8" cy="736.2" r="6.75"/>
<circle cx="621.2" cy="735.9" r="6.75"/>
<circle cx="630.7" cy="735.5" r="6.75"/>
<circle cx="640.1" cy="735.1" r="6.75"/>
<circle cx="649.5" cy="734.7" r="6.75"/>
<circle cx="658.9" cy="734.3" r="6.75"/>
<circle cx="668.4" cy="733.9" r="6.75"/>
<circle cx="677.8" cy="733.4" r="6.75"/>
<circle cx="687.2" cy="733.0" r="6.75"/>
<circle cx="696.7" cy="732.5" r="6.75"/>
<circle cx="706.1" cy="732.0" r="6.75"/>
<circle cx="715.5" cy="731.5" r="6.75"/>
<circle cx="724.9" cy="730.9" r="6.75"/>
<circle cx="734.4" cy="730.3" r="6.75"/>
<circle cx="743.8" cy="729.8" r="6.75"/>
<circle cx="753.2" cy="729.2" r="6.75"/>
<circle cx="762.7" cy="728.5" r="6.75"/>
<circle cx="772.1" cy="727.9" r="6.75"/>
<circle cx="781.5" cy="727.2" r="6.75"/>
<circle cx="790.9" cy="726.5" r="6.75"/>
<circle cx="800.4" cy="725.7" r="6.75"/>
<circle cx="809.8" cy="725.0" r="6.75"/>
<circle cx="819.2" cy="724.2" r="6.75"/>
<circle cx="828.6" cy="723.3" r="6.75"/>
<circle cx="838.1" cy="722.4" r="6.75"/>
<circle cx="847.5" cy="721.5" r="6.75"/>
<circle cx="856.9" cy="720.6" r="6.75"/>
<circle cx="866.4" cy="719.6" r="6.75"/>
<circle cx="875.8" cy="718.6" r="6.75"/>
<circle cx="885.2" cy="717.5" r="6.75"/>
<circle cx="894.6" cy="716.4" r="6.75"/>
<circle cx="904.1" cy="715.2" r="6.75"/>
<circle cx="913.5" cy="713.9" r="6.75"/>
<circle cx="922.9" cy="712.6" r="6.75"/>
<circle cx="932.4" cy="711.3" r="6.75"/>
<circle cx="941.8" cy="709.8" r="6.75"/>
<circle cx="951.2" cy="708.3" r="6.75"/>
<circle cx="960.6" cy="706.7" r="6.75"/>
<circle cx="970.1" cy="705.1" r="6.75"/>
<circle cx="979.5" cy="703.3" r="6.75"/>
<circle cx="988.9" cy="701.4" r="6.75"/>
<circle cx="998.4" cy="699.4" r="6.75"/>
<circle cx="1007.8" cy="697.2" r="6.75"/>
<circle cx="1017.2" cy="694.9" r="6.75"/>
<circle cx="1026.6" cy="692.4" r="6.75"/>
<circle cx="1036.1" cy="689.7" r="6.75"/>
<circle cx="1045.5" cy="686.7" r="6.75"/>
<circle cx="1054.9" cy="683.4" r="6.75"/>
<circle cx="1064.3" cy="679.6" r="6.75"/>
<circle cx="1073.8" cy="675.2" r="6.75"/>
<circle cx="140.4" cy="743.0" r="6.75"/>
<circle cx="145.6" cy="743.0" r="6.75"/>
<circle cx="150.9" cy="743.0" r="6.75"/>
<circle cx="156.1" cy="743.0" r="6.75"/>
<circle cx="161.3" cy="743.0" r="6.75"/>
<circle cx="166.6" cy="743.0" r="6.75"/>
<circle cx="171.8" cy="743.0" r="6.75"/>
<circle cx="177.1" cy="742.9" r="6.75"/>
<circle cx="182.3" cy="742.9" r="6.75"/>
<circle cx="187.5" cy="742.9" r="6.75"/>
<circle cx="192.8" cy="742.9" r="6.75"/>
<circle cx="198.0" cy="742.9" r="6.75"/>
<circle cx="203.2" cy="742.8" r="6.75"/>
<circle cx="208.5" cy="742.8" r="6.75"/>
<circle cx="213.7" cy="742.8" r="6.75"/>
<circle cx="219.0" cy="742.7" r="6.75"/>
<circle cx="224.2" cy="742.7" r="6.75"/>
<circle cx="229.4" cy="742.6" r="6.75"/>
<circle cx="234.7" cy="742.6" r="6.75"/>
<circle cx="239.9" cy="742.5" r="6.75"/>
<circle cx="245.1" cy="742.5" r="6.75"/>
<circle cx="250.4" cy="742.4" r="6.75"/>
<circle cx="255.6" cy="742.4" r="6.75"/>
<circle cx="260.9" cy="742.3" r="6.75"/>
<circle cx="266.1" cy="742.2" r="6.75"/>
<circle cx="271.3" cy="742.2" r="6.75"/>
<circle cx="276.6" cy="742.1" r="6.75"/>
<circle cx="281.8" cy="742.0" r="6.75"/>
<circle cx="287.0" cy="741.9" r="6.75"/>
<circle cx="292.3" cy="741.9" r="6.75"/>
<circle cx="297.5" cy="741.8" r="6.75"/>
<circle cx="302.7" cy="741.7" r="6.75"/>
<circle cx="308.0" cy="741.6" r="6.75"/>
<circle cx="313.2" cy="741.5" r="6.75"/>
<circle cx="318.5" cy="741.4" r="6.75"/>
<circle cx="323.7" cy="741.2" r="6.75"/>
<circle cx="328.9" cy="741.1" r="6.75"/>
<circle cx="334.2" cy="741.0" r="6.75"/>
<circle cx="339.4" cy="740.9" r="6.75"/>
<circle cx="344.6" cy="740.7" r="6.75"/>
<circle cx="349.9" cy="740.6" r="6.75"/>
<circle cx="355.1" cy="740.5" r="6.75"/>
<circle cx="360.4" cy="740.3" r="6.75"/>
<circle cx="365.6" cy="740.2" r="6.75"/>
<circle cx="370.8" cy="740.0" r="6.75"/>
<circle cx="376.1" cy="739.8" r="6.75"/>
<circle cx="381.3" cy="739.6" r="6.75"/>
<circle cx="386.5" cy="739.5" r="6.75"/>
<circle cx="391.8" cy="739.3" r="6.75"/>
<circle cx="397.0" cy="739.1" r="6.75"/>
<circle cx="402.3" cy="738.9" r="6.75"/>
<circle cx="407.5" cy="738.7" r="6.75"/>
<circle cx="412.7" cy="738.5" r="6.75"/>
<circle cx="418.0" cy="738.2" r="6.75"/>
<circle cx="423.2" cy="738.0" r="6.75"/>
<circle cx="428.4" cy="737.8" r="6.75"/>
<circle cx="433.7" cy="737.5" r="6.75"/>
<circle cx="438.9" cy="737.3" r="6.75"/>
<circle cx="444.2" cy="737.0" r="6.75"/>
<circle cx="449.4" cy="736.7" r="6.75"/>
<circle cx="454.6" cy="736.4" r="6.75"/>
<circle cx="459.9" cy="736.1" r="6.75"/>
<circle cx="465.1" cy="735.8" r="6.75"/>
<circle cx="470.3" cy="735.5" r="6.75"/>
<circle cx="475.6" cy="735.2" r="6.75"/>
<circle cx="480.8" cy="734.8" r="6.75"/>
<circle cx="486.0" cy="734.5" r="6.75"/>
<circle cx="491.3" cy="734.1" r="6.75"/>
<circle cx="496.5" cy="733.7" r="6.75"/>
<circle cx="501.8" cy="733.3" r="6.75"/>
<circle cx="507.0" cy="732.9" r="6.75"/>
<circle cx="512.2" cy="732.5" r="6.75"/>
<circle cx="517.5" cy="732.0" r="6.75"/>
<circle cx="522.7" cy="731.6" r="6.75"/>
<circle cx="527.9" cy="731.1" r="6.75"/>
<circle cx="533.2" cy="730.6" r="6.75"/>
<circle cx="538.4" cy="730.1" r="6.75"/>
<circle cx="543.7" cy="729.6" r="6.75"/>
<circle cx="548.9" cy="729.0" r="6.75"/>
<circle cx="554.1" cy="728.4" r="6.75"/>
<circle cx="559.4" cy="727.8" r="6.75"/>
<circle cx="564.6" cy="727.2" r="6.75"/>
<circle cx="569.8" cy="726.6" r="6.75"/>
<circle cx="575.1" cy="725.9" r="6.75"/>
<circle cx="580.3" cy="725.2" r="6.75"/>
<circle cx="585.6" cy="724.4" r="6.75"/>
<circle cx="590.8" cy="723.6" r="6.75"/>
<circle cx="596.0" cy="722.8" r="6.75"/>
<circle cx="601.3" cy="721.9" r="6.75"/>
<circle cx="606.5" cy="721.0" r="6.75"/>
<circle cx="611.7" cy="720.0" r="6.75"/>
<circle cx="617.0" cy="719.0" r="6.75"/>
<circle cx="622.2" cy="717.9" r="6.75"/>
<circle cx="627.4" cy="716.8" r="6.75"/>
<circle cx="632.7" cy="715.5" r="6.75"/>
<circle cx="637.9" cy="714.2" r="6.75"/>
<circle cx="643.2" cy="712.7" r="6.75"/>
<circle cx="648.4" cy="711.1" r="6.75"/>
<circle cx="653.6" cy="709.2" r="6.75"/>
<circle cx="658.9" cy="707.1" r="6.75"/>
<circle cx="140.4" cy="743.0" r="6.75"/>
<circle cx="144.9" cy="743.0" r="6.75"/>
<circle cx="149.5" cy="743.0" r="6.75"/>
<circle cx="154.0" cy="743.0" r="6.75"/>
<circle cx="158.5" cy="743.0" r="6.75"/>
<circle cx="163.0" cy="743.0" r="6.75"/>
<circle cx="167.6" cy="743.0" r="6.75"/>
<circle cx="172.1" cy="742.9" r="6.75"/>
<circle cx="176.6" cy="742.9" r="6.75"/>
<circle cx="181.1" cy="742.9" r="6.75"/>
<circle cx="185.7" cy="742.9" r="6.75"/>
<circle cx="190.2" cy="742.9" r="6.75"/>
<circle cx="194.7" cy="742.8" r="6.75"/>
<circle cx="199.3" cy="742.8" r="6.75"/>
<circle cx="203.8" cy="742.8" r="6.75"/>
<circle cx="208.3" cy="742.8" r="6.75"/>
<circle cx="212.8" cy="742.7" r="6.75"/>
<circle cx="217.4" cy="742.7" r="6.75"/>
<circle cx="221.9" cy="742.6" r="6.75"/>
<circle cx="226.4" cy="742.6" r="6.75"/>
<circle cx="231.0" cy="742.5" r="6.75"/>
<circle cx="235.5" cy="742.5" r="6.75"/>
<circle cx="240.0" cy="742.4" r="6.75"/>
<circle cx="244.5" cy="742.4" r="6.75"/>
<circle cx="249.1" cy="742.3" r="6.75"/>
<circle cx="253.6" cy="742.3" r="6.75"/>
<circle cx="258.1" cy="742.2" r="6.75"/>
<circle cx="262.6" cy="742.1" r="6.75"/>
<circle cx="267.2" cy="742.1" r="6.75"/>
<circle cx="271.7" cy="742.0" r="6.75"/>
<circle cx="276.2" cy="741.9" r="6.75"/>
<circle cx="280.8" cy="741.8" r="6.75"/>
<circle cx="285.3" cy="741.7" r="6.75"/>
<circle cx="289.8" cy="741.6" r="6.75"/>
<circle cx="294.3" cy="741.6" r="6.75"/>
<circle cx="298.9" cy="741.5" r="6.75"/>
<circle cx="303.4" cy="741.3" r="6.75"/>
<circle cx="307.9" cy="741.2" r="6.75"/>
<circle cx="312.4" cy="741.1" r="6.75"/>
<circle cx="317.0" cy="741.0" r="6.75"/>
<circle cx="321.5" cy="740.9" r="6.75"/>
<circle cx="326.0" cy="740.8" r="6.75"/>
<circle cx="330.6" cy="740.6" r="6.75"/>
<circle cx="335.1" cy="740.5" r="6.75"/>
<circle cx="339.6" cy="740.4" r="6.75"/>
<circle cx="344.1" cy="740.2" r="6.75"/>
<circle cx="348.7" cy="740.1" r="6.75"/>
<circle cx="353.2" cy="739.9" r="6.75"/>
<circle cx="357.7" cy="739.7" r="6.75"/>
<circle cx="362.3" cy="739.6" r="6.75"/>
<circle cx="366.8" cy="739.4" r="6.75"/>
<circle cx="371.3" cy="739.2" r="6.75"/>
<circle cx="375.8" cy="739.0" r="6.75"/>
<circle cx="380.4" cy="738.8" r="6.75"/>
<circle cx="384.9" cy="738.6" r="6.75"/>
<circle cx="389.4" cy="738.4" r="6.75"/>
<circle cx="393.9" cy="738.2" r="6.75"/>
<circle cx="398.5" cy="738.0" r="6.75"/>
<circle cx="403.0" cy="737.7" r="6.75"/>
<circle cx="407.5" cy="737.5" r="6.75"/>
<circle cx="412.1" cy="737.3" r="6.75"/>
<circle cx="416.6" cy="737.0" r="6.75"/>
<circle cx="421.1" cy="736.7" r="6.75"/>
<circle cx="425.6" cy="736.5" r="6.75"/>
<circle cx="430.2" cy="736.2" r="6.75"/>
<circle cx="434.7" cy="735.9" r="6.75"/>
<circle cx="439.2" cy="735.6" r="6.75"/>
<circle cx="443.7" cy="735.2" r="6.75"/>
<circle cx="448.3" cy="734.9" r="6.75"/>
<circle cx="452.8" cy="734.6" r="6.75"/>
<circle cx="457.3" cy="734.2" r="6.75"/>
<circle cx="461.9" cy="733.9" r="6.75"/>
<circle cx="466.4" cy="733.5" r="6.75"/>
<circle cx="470.9" cy="733.1" r="6.75"/>
<circle cx="475.4" cy="732.7" r="6.75"/>
<circle cx="480.0" cy="732.2" r="6.75"/>
<circle cx="484.5" cy="731.8" r="6.75"/>
<circle cx="489.0" cy="731.3" r="6.75"/>
<circle cx="493.6" cy="730.9" r="6.75"/>
<circle cx="498.1" cy="730.4" r="6.75"/>
<circle cx="502.6" cy="729.9" r="6.75"/>
<circle cx="507.1" cy="729.3" r="6.75"/>
<circle cx="511.7" cy="728.8" r="6.75"/>
<circle cx="516.2" cy="728.2" r="6.75"/>
<circle cx="520.7" cy="727.6" r="6.75"/>
<circle cx="525.2" cy="726.9" r="6.75"/>
<circle cx="529.8" cy="726.2" r="6.75"/>
<circle cx="534.3" cy="725.5" r="6.75"/>
<circle cx="538.8" cy="724.8" r="6.75"/>
<circle cx="543.4" cy="724.0" r="6.75"/>
<circle cx="547.9" cy="723.2" r="6.75"/>
<circle cx="552.4" cy="722.3" r="6.75"/>
<circle cx="556.9" cy="721.4" r="6.75"/>
<circle cx="561.5" cy="720.4" r="6.75"/>
<circle cx="566.0" cy="719.3" r="6.75"/>
<circle cx="570.5" cy="718.2" r="6.75"/>
<circle cx="575.0" cy="716.9" r="6.75"/>
<circle cx="579.6" cy="715.6" r="6.75"/>
<circle cx="584.1" cy="714.0" r="6.75"/>
<circle cx="588.6" cy="712.2" r="6.75"/>
<circle cx="140.4" cy="743.0" r="6.75"/>
<circle cx="144.9" cy="743.0" r="6.75"/>
<circle cx="149.4" cy="743.0" r="6.75"/>
<circle cx="153.9" cy="743.0" r="6.75"/>
<circle cx="158.4" cy="743.0" r="6.75"/>
<circle cx="162.9" cy="743.0" r="6.75"/>
<circle cx="167.4" cy="743.0" r="6.75"/>
<circle cx="171.9" cy="742.9" r="6.75"/>
<circle cx="176.4" cy="742.9" r="6.75"/>
<circle cx="180.9" cy="742.9" r="6.75"/>
<circle cx="185.4" cy="742.9" r="6.75"/>
<circle cx="189.9" cy="742.9" r="6.75"/>
<circle cx="194.4" cy="742.8" r="6.75"/>
<circle cx="198.8" cy="742.8" r="6.75"/>
<circle cx="203.3" cy="742.8" r="6.75"/>
<circle cx="207.8" cy="742.8" r="6.75"/>
<circle cx="212.3" cy="742.7" r="6.75"/>
<circle cx="216.8" cy="742.7" r="6.75"/>
<circle cx="221.3" cy="742.6" r="6.75"/>
<circle cx="225.8" cy="742.6" r="6.75"/>
<circle cx="230.3" cy="742.6" r="6.75"/>
<circle cx="234.8" cy="742.5" r="6.75"/>
<circle cx="239.3" cy="742.5" r="6.75"/>
<circle cx="243.8" cy="742.4" r="6.75"/>
<circle cx="248.3" cy="742.3" r="6.75"/>
<circle cx="252.8" cy="742.3" r="6.75"/>
<circle cx="257.3" cy="742.2" r="6.75"/>
<circle cx="261.8" cy="742.1" r="6.75"/>
<circle cx="266.3" cy="742.1" r="6.75"/>
<circle cx="270.8" cy="742.0" r="6.75"/>
<circle cx="275.3" cy="741.9" r="6.75"/>
<circle cx="279.8" cy="741.8" r="6.75"/>
<circle cx="284.3" cy="741.7" r="6.75"/>
<circle cx="288.8" cy="741.7" r="6.75"/>
<circle cx="293.3" cy="741.6" r="6.75"/>
<circle cx="297.8" cy="741.5" r="6.75"/>
<circle cx="302.3" cy="741.4" r="6.75"/>
<circle cx="306.8" cy="741.3" r="6.75"/>
<circle cx="311.3" cy="741.1" r="6.75"/>
<circle cx="315.7" cy="741.0" r="6.75"/>
<circle cx="320.2" cy="740.9" r="6.75"/>
<circle cx="324.7" cy="740.8" r="6.75"/>
<circle cx="329.2" cy="740.6" r="6.75"/>
<circle cx="333.7" cy="740.5" r="6.75"/>
<circle cx="338.2" cy="740.4" r="6.75"/>
<circle cx="342.7" cy="740.2" r="6.75"/>
<circle cx="347.2" cy="740.1" r="6.75"/>
<circle cx="351.7" cy="739.9" r="6.75"/>
<circle cx="356.2" cy="739.8" r="6.75"/>
<circle cx="360.7" cy="739.6" r="6.75"/>
<circle cx="365.2" cy="739.4" r="6.75"/>
<circle cx="369.7" cy="739.2" r="6.75"/>
<circle cx="374.2" cy="739.0" r="6.75"/>
<circle cx="378.7" cy="738.9" r="6.75"/>
<circle cx="383.2" cy="738.7" r="6.75"/>
<circle cx="387.7" cy="738.4" r="6.75"/>
<circle cx="392.2" cy="738.2" r="6.75"/>
<circle cx="396.7" cy="738.0" r="6.75"/>
<circle cx="401.2" cy="737.8" r="6.75"/>
<circle cx="405.7" cy="737.5" r="6.75"/>
<circle cx="410.2" cy="737.3" r="6.75"/>
<circle cx="414.7" cy="737.0" r="6.75"/>
<circle cx="419.2" cy="736.8" r="6.75"/>
<circle cx="423.7" cy="736.5" r="6.75"/>
<circle cx="428.2" cy="736.2" r="6.75"/>
<circle cx="432.6" cy="735.9" r="6.75"/>
<circle cx="437.1" cy="735.6" r="6.75"/>
<circle cx="441.6" cy="735.3" r="6.75"/>
<circle cx="446.1" cy="735.0" r="6.75"/>
<circle cx="450.6" cy="734.6" r="6.75"/>
<circle cx="455.1" cy="734.3" r="6.75"/>
<circle cx="459.6" cy="733.9" r="6.75"/>
<circle cx="464.1" cy="733.5" r="6.75"/>
<circle cx="468.6" cy="733.1" r="6.75"/>
<circle cx="473.1" cy="732.7" r="6.75"/>
<circle cx="477.6" cy="732.3" r="6.75"/>
<circle cx="482.1" cy="731.9" r="6.75"/>
<circle cx="486.6" cy="731.4" r="6.75"/>
<circle cx="491.1" cy="731.0" r="6.75"/>
<circle cx="495.6" cy="730.5" r="6.75"/>
<circle cx="500.1" cy="729.9" r="6.75"/>
<circle cx="504.6" cy="729.4" r="6.75"/>
<circle cx="509.1" cy="728.9" r="6.75"/>
<circle cx="513.6" cy="728.3" r="6.75"/>
<circle cx="518.1" cy="727.7" r="6.75"/>
<circle cx="522.6" cy="727.0" r="6.75"/>
<circle cx="527.1" cy="726.4" r="6.75"/>
<circle cx="531.6" cy="725.7" r="6.75"/>
<circle cx="536.1" cy="724.9" r="6.75"/>
<circle cx="540.6" cy="724.1" r="6.75"/>
<circle cx="545.1" cy="723.3" r="6.75"/>
<circle cx="549.5" cy="722.5" r="6.75"/>
<circle cx="554.0" cy="721.5" r="6.75"/>
<circle cx="558.5" cy="720.6" r="6.75"/>
<circle cx="563.0" cy="719.5" r="6.75"/>
<circle cx="567.5" cy="718.4" r="6.75"/>
<circle cx="572.0" cy="717.1" r="6.75"/>
<circle cx="576.5" cy="715.8" r="6.75"/>
<circle cx="581.0" cy="714.2" r="6.75"/>
<circle cx="585.5" cy="712.4" r="6.75"/>
<circle cx="140.4" cy="743.0" r="6.75"/>
<circle cx="144.2" cy="743.0" r="6.75"/>
<circle cx="147.9" cy="743.0" r="6.75"/>
<circle cx="151.7" cy="743.0" r="6.75"/>
<circle cx="155.4" cy="743.0" r="6.75"/>
<circle cx="159.2" cy="743.0" r="6.75"/>
<circle cx="162.9" cy="743.0" r="6.75"/>
<circle cx="166.7" cy="743.0" r="6.75"/>
<circle cx="170.4" cy="742.9" r="6.75"/>
<circle cx="174.2" cy="742.9" r="6.75"/>
<circle cx="177.9" cy="742.9" r="6.75"/>
<circle cx="181.7" cy="742.9" r="6.75"/>
<circle cx="185.5" cy="742.9" r="6.75"/>
<circle cx="189.2" cy="742.8" r="6.75"/>
<circle cx="193.0" cy="742.8" r="6.75"/>
<circle cx="196.7" cy="742.8" r="6.75"/>
<circle cx="200.5" cy="742.8" r="6.75"/>
<circle cx="204.2" cy="742.7" r="6.75"/>
<circle cx="208.0" cy="742.7" r="6.75"/>
<circle cx="211.7" cy="742.7" r="6.75"/>
<circle cx="215.5" cy="742.6" r="6.75"/>
<circle cx="219.2" cy="742.6" r="6.75"/>
<circle cx="223.0" cy="742.5" r="6.75"/>
<circle cx="226.8" cy="742.5" r="6.75"/>
<circle cx="230.5" cy="742.4" r="6.75"/>
<circle cx="234.3" cy="742.4" r="6.75"/>
<circle cx="238.0" cy="742.3" r="6.75"/>
<circle cx="241.8" cy="742.3" r="6.75"/>
<circle cx="245.5" cy="742.2" r="6.75"/>
<circle cx="249.3" cy="742.1" r="6.75"/>
<circle cx="253.0" cy="742.1" r="6.75"/>
<circle cx="256.8" cy="742.0" r="6.75"/>
<circle cx="260.5" cy="741.9" r="6.75"/>
<circle cx="264.3" cy="741.9" r="6.75"/>
<circle cx="268.1" cy="741.8" r="6.75"/>
<circle cx="271.8" cy="741.7" r="6.75"/>
<circle cx="275.6" cy="741.6" r="6.75"/>
<circle cx="279.3" cy="741.5" r="6.75"/>
<circle cx="283.1" cy="741.4" r="6.75"/>
<circle cx="286.8" cy="741.3" r="6.75"/>
<circle cx="290.6" cy="741.2" r="6.75"/>
<circle cx="294.3" cy="741.1" r="6.75"/>
<circle cx="298.1" cy="741.0" r="6.75"/>
<circle cx="301.8" cy="740.9" r="6.75"/>
<circle cx="305.6" cy="740.8" r="6.75"/>
<circle cx="309.4" cy="740.7" r="6.75"/>
<circle cx="313.1" cy="740.5" r="6.75"/>
<circle cx="316.9" cy="740.4" r="6.75"/>
<circle cx="320.6" cy="740.3" r="6.75"/>
<circle cx="324.4" cy="740.1" r="6.75"/>
<circle cx="328.1" cy="740.0" r="6.75"/>
<circle cx="331.9" cy="739.8" r="6.75"/>
<circle cx="335.6" cy="739.7" r="6.75"/>
<circle cx="339.4" cy="739.5" r="6.75"/>
<circle cx="343.1" cy="739.3" r="6.75"/>
<circle cx="346.9" cy="739.2" r="6.75"/>
<circle cx="350.7" cy="739.0" r="6.75"/>
<circle cx="354.4" cy="738.8" r="6.75"/>
<circle cx="358.2" cy="738.6" r="6.75"/>
<circle cx="361.9" cy="738.4" r="6.75"/>
<circle cx="365.7" cy="738.2" r="6.75"/>
<circle cx="369.4" cy="738.0" r="6.75"/>
<circle cx="373.2" cy="737.7" r="6.75"/>
<circle cx="376.9" cy="737.5" r="6.75"/>
<circle cx="380.7" cy="737.3" r="6.75"/>
<circle cx="384.4" cy="737.0" r="6.75"/>
<circle cx="388.2" cy="736.8" r="6.75"/>
<circle cx="392.0" cy="736.5" r="6.75"/>
<circle cx="395.7" cy="736.2" r="6.75"/>
<circle cx="399.5" cy="736.0" r="6.75"/>
<circle cx="403.2" cy="735.7" r="6.75"/>
<circle cx="407.0" cy="735.4" r="6.75"/>
<circle cx="410.7" cy="735.1" r="6.75"/>
<circle cx="414.5" cy="734.7" r="6.75"/>
<circle cx="418.2" cy="734.4" r="6.75"/>
<circle cx="422.0" cy="734.0" r="6.75"/>
<circle cx="425.7" cy="733.7" r="6.75"/>
<circle cx="429.5" cy="733.3" r="6.75"/>
<circle cx="433.3" cy="732.9" r="6.75"/>
<circle cx="437.0" cy="732.5" r="6.75"/>
<circle cx="440.8" cy="732.1" r="6.75"/>
<circle cx="444.5" cy="731.6" r="6.75"/>
<circle cx="448.3" cy="731.2" r="6.75"/>
<circle cx="452.0" cy="730.7" r="6.75"/>
<circle cx="455.8" cy="730.2" r="6.75"/>
<circle cx="459.5" cy="729.7" r="6.75"/>
<circle cx="463.3" cy="729.1" r="6.75"/>
<circle cx="467.0" cy="728.5" r="6.75"/>
<circle cx="470.8" cy="727.9" r="6.75"/>
<circle cx="474.6" cy="727.3" r="6.75"/>
<circle cx="478.3" cy="726.6" r="6.75"/>
<circle cx="482.1" cy="725.9" r="6.75"/>
<circle cx="485.8" cy="725.1" r="6.75"/>
<circle cx="489.6" cy="724.3" r="6.75"/>
<circle cx="493.3" cy="723.5" r="6.75"/>
<circle cx="497.1" cy="722.5" r="6.75"/>
<circle cx="500.8" cy="721.5" r="6.75"/>
<circle cx="504.6" cy="720.4" r="6.75"/>
<circle cx="508.3" cy="719.1" r="6.75"/>
<circle cx="512.1" cy="717.6" r="6.75"/>
<circle cx="140.4" cy="743.0" r="6.75"/>
<circle cx="143.3" cy="743.0" r="6.75"/>
<circle cx="146.3" cy="743.0" r="6.75"/>
<circle cx="149.2" cy="743.0" r="6.75"/>
<circle cx="152.1" cy="743.0" r="6.75"/>
<circle cx="155.1" cy="743.0" r="6.75"/>
<circle cx="158.0" cy="743.0" r="6.75"/>
<circle cx="161.0" cy="743.0" r="6.75"/>
<circle cx="163.9" cy="743.0" r="6.75"/>
<circle cx="166.8" cy="742.9" r="6.75"/>
<circle cx="169.8" cy="742.9" r="6.75"/>
<circle cx="172.7" cy="742.9" r="6.75"/>
<circle cx="175.6" cy="742.9" r="6.75"/>
<circle cx="178.6" cy="742.9" r="6.75"/>
<circle cx="181.5" cy="742.9" r="6.75"/>
<circle cx="184.4" cy="742.8" r="6.75"/>
<circle cx="187.4" cy="742.8" r="6.75"/>
<circle cx="190.3" cy="742.8" r="6.75"/>
<circle cx="193.3" cy="742.8" r="6.75"/>
<circle cx="196.2" cy="742.7" r="6.75"/>
<circle cx="199.1" cy="742.7" r="6.75"/>
<circle cx="202.1" cy="742.7" r="6.75"/>
<circle cx="205.0" cy="742.6" r="6.75"/>
<circle cx="207.9" cy="742.6" r="6.75"/>
<circle cx="210.9" cy="742.5" r="6.75"/>
<circle cx="213.8" cy="742.5" r="6.75"/>
<circle cx="216.7" cy="742.5" r="6.75"/>
<circle cx="219.7" cy="742.4" r="6.75"/>
<circle cx="222.6" cy="742.4" r="6.75"/>
<circle cx="225.6" cy="742.3" r="6.75"/>
<circle cx="228.5" cy="742.3" r="6.75"/>
<circle cx="231.4" cy="742.2" r="6.75"/>
<circle cx="234.4" cy="742.1" r="6.75"/>
<circle cx="237.3" cy="742.1" r="6.75"/>
<circle cx="240.2" cy="742.0" r="6.75"/>
<circle cx="243.2" cy="742.0" r="6.75"/>
<circle cx="246.1" cy="741.9" r="6.75"/>
<circle cx="249.0" cy="741.8" r="6.75"/>
<circle cx="252.0" cy="741.7" r="6.75"/>
<circle cx="254.9" cy="741.7" r="6.75"/>
<circle cx="257.8" cy="741.6" r="6.75"/>
<circle cx="260.8" cy="741.5" r="6.75"/>
<circle cx="263.7" cy="741.4" r="6.75"/>
<circle cx="266.7" cy="741.3" r="6.75"/>
<circle cx="269.6" cy="741.2" r="6.75"/>
<circle cx="272.5" cy="741.1" r="6.75"/>
<circle cx="275.5" cy="741.0" r="6.75"/>
<circle cx="278.4" cy="740.9" r="6.75"/>
<circle cx="281.3" cy="740.8" r="6.75"/>
<circle cx="284.3" cy="740.7" r="6.75"/>
<circle cx="287.2" cy="740.6" r="6.75"/>
<circle cx="290.1" cy="740.5" r="6.75"/>
<circle cx="293.1" cy="740.4" r="6.75"/>
<circle cx="296.0" cy="740.2" r="6.75"/>
<circle cx="299.0" cy="740.1" r="6.75"/>
<circle cx="301.9" cy="740.0" r="6.75"/>
<circle cx="304.8" cy="739.8" r="6.75"/>
<circle cx="307.8" cy="739.7" r="6.75"/>
<circle cx="310.7" cy="739.5" r="6.75"/>
<circle cx="313.6" cy="739.4" r="6.75"/>
<circle cx="316.6" cy="739.2" r="6.75"/>
<circle cx="319.5" cy="739.0" r="6.75"/>
<circle cx="322.4" cy="738.9" r="6.75"/>
<circle cx="325.4" cy="738.7" r="6.75"/>
<circle cx="328.3" cy="738.5" r="6.75"/>
<circle cx="331.3" cy="738.3" r="6.75"/>
<circle cx="334.2" cy="738.1" r="6.75"/>
<circle cx="337.1" cy="737.9" r="6.75"/>
<circle cx="340.1" cy="737.7" r="6.75"/>
<circle cx="343.0" cy="737.5" r="6.75"/>
<circle cx="345.9" cy="737.2" r="6.75"/>
<circle cx="348.9" cy="737.0" r="6.75"/>
<circle cx="351.8" cy="736.7" r="6.75"/>
<circle cx="354.7" cy="736.5" r="6.75"/>
<circle cx="357.7" cy="736.2" r="6.75"/>
<circle cx="360.6" cy="736.0" r="6.75"/>
<circle cx="363.6" cy="735.7" r="6.75"/>
<circle cx="366.5" cy="735.4" r="6.75"/>
<circle cx="369.4" cy="735.1" r="6.75"/>
<circle cx="372.4" cy="734.8" r="6.75"/>
<circle cx="375.3" cy="734.4" r="6.75"/>
<circle cx="378.2" cy="734.1" r="6.75"/>
<circle cx="381.2" cy="733.7" r="6.75"/>
<circle cx="384.1" cy="733.4" r="6.75"/>
<circle cx="387.0" cy="733.0" r="6.75"/>
<circle cx="390.0" cy="732.6" r="6.75"/>
<circle cx="392.9" cy="732.1" r="6.75"/>
<circle cx="395.9" cy="731.7" r="6.75"/>
<circle cx="398.8" cy="731.2" r="6.75"/>
<circle cx="401.7" cy="730.7" r="6.75"/>
<circle cx="404.7" cy="730.2" r="6.75"/>
<circle cx="407.6" cy="729.7" r="6.75"/>
<circle cx="410.5" cy="729.1" r="6.75"/>
<circle cx="413.5" cy="728.5" r="6.75"/>
<circle cx="416.4" cy="727.8" r="6.75"/>
<circle cx="419.3" cy="727.1" r="6.75"/>
<circle cx="422.3" cy="726.3" r="6.75"/>
<circle cx="425.2" cy="725.4" r="6.75"/>
<circle cx="428.2" cy="724.5" r="6.75"/>
<circle cx="431.1" cy="723.3" r="6.75"/>
<circle cx="140.4" cy="743.0" r="6.75"/>
<circle cx="142.0" cy="743.0" r="6.75"/>
<circle cx="143.7" cy="743.0" r="6.75"/>
<circle cx="145.3" cy="743.0" r="6.75"/>
<circle cx="147.0" cy="743.0" r="6.75"/>
<circle cx="148.6" cy="743.0" r="6.75"/>
<circle cx="150.3" cy="743.0" r="6.75"/>
<circle cx="151.9" cy="743.0" r="6.75"/>
<circle cx="153.6" cy="743.0" r="6.75"/>
<circle cx="155.2" cy="743.0" r="6.75"/>
<circle cx="156.9" cy="743.0" r="6.75"/>
<circle cx="158.5" cy="742.9" r="6.75"/>
<circle cx="160.2" cy="742.9" r="6.75"/>
<circle cx="161.8" cy="742.9" r="6.75"/>
<circle cx="163.5" cy="742.9" r="6.75"/>
<circle cx="165.1" cy="742.9" r="6.75"/>
<circle cx="166.8" cy="742.9" r="6.75"/>
<circle cx="168.4" cy="742.9" r="6.75"/>
<circle cx="170.1" cy="742.9" r="6.75"/>
<circle cx="171.7" cy="742.8" r="6.75"/>
<circle cx="173.4" cy="742.8" r="6.75"/>
<circle cx="175.0" cy="742.8" r="6.75"/>
<circle cx="176.7" cy="742.8" r="6.75"/>
<circle cx="178.3" cy="742.8" r="6.75"/>
<circle cx="179.9" cy="742.7" r="6.75"/>
<circle cx="181.6" cy="742.7" r="6.75"/>
<circle cx="183.2" cy="742.7" r="6.75"/>
<circle cx="184.9" cy="742.7" r="6.75"/>
<circle cx="186.5" cy="742.6" r="6.75"/>
<circle cx="188.2" cy="742.6" r="6.75"/>
<circle cx="189.8" cy="742.6" r="6.75"/>
<circle cx="191.5" cy="742.5" r="6.75"/>
<circle cx="193.1" cy="742.5" r="6.75"/>
<circle cx="194.8" cy="742.5" r="6.75"/>
<circle cx="196.4" cy="742.4" r="6.75"/>
<circle cx="198.1" cy="742.4" r="6.75"/>
<circle cx="199.7" cy="742.4" r="6.75"/>
<circle cx="201.4" cy="742.3" r="6.75"/>
<circle cx="203.0" cy="742.3" r="6.75"/>
<circle cx="204.7" cy="742.2" r="6.75"/>
<circle cx="206.3" cy="742.2" r="6.75"/>
<circle cx="208.0" cy="742.1" r="6.75"/>
<circle cx="209.6" cy="742.1" r="6.75"/>
<circle cx="211.3" cy="742.0" r="6.75"/>
<circle cx="212.9" cy="742.0" r="6.75"/>
<circle cx="214.6" cy="741.9" r="6.75"/>
<circle cx="216.2" cy="741.9" r="6.75"/>
<circle cx="217.8" cy="741.8" r="6.75"/>
<circle cx="219.5" cy="741.8" r="6.75"/>
<circle cx="221.1" cy="741.7" r="6.75"/>
<circle cx="222.8" cy="741.6" r="6.75"/>
<circle cx="224.4" cy="741.6" r="6.75"/>
<circle cx="226.1" cy="741.5" r="6.75"/>
<circle cx="227.7" cy="741.4" r="6.75"/>
<circle cx="229.4" cy="741.3" r="6.75"/>
<circle cx="231.0" cy="741.3" r="6.75"/>
<circle cx="232.7" cy="741.2" r="6.75"/>
<circle cx="234.3" cy="741.1" r="6.75"/>
<circle cx="236.0" cy="741.0" r="6.75"/>
<circle cx="237.6" cy="740.9" r="6.75"/>
<circle cx="239.3" cy="740.8" r="6.75"/>
<circle cx="240.9" cy="740.7" r="6.75"/>
<circle cx="242.6" cy="740.6" r="6.75"/>
<circle cx="244.2" cy="740.5" r="6.75"/>
<circle cx="245.9" cy="740.4" r="6.75"/>
<circle cx="247.5" cy="740.3" r="6.75"/>
<circle cx="249.2" cy="740.2" r="6.75"/>
<circle cx="250.8" cy="740.1" r="6.75"/>
<circle cx="252.5" cy="740.0" r="6.75"/>
<circle cx="254.1" cy="739.9" r="6.75"/>
<circle cx="255.7" cy="739.7" r="6.75"/>
<circle cx="257.4" cy="739.6" r="6.75"/>
<circle cx="259.0" cy="739.5" r="6.75"/>
<circle cx="260.7" cy="739.3" r="6.75"/>
<circle cx="262.3" cy="739.2" r="6.75"/>
<circle cx="264.0" cy="739.0" r="6.75"/>
<circle cx="265.6" cy="738.9" r="6.75"/>
<circle cx="267.3" cy="738.7" r="6.75"/>
<circle cx="268.9" cy="738.5" r="6.75"/>
<circle cx="270.6" cy="738.4" r="6.75"/>
<circle cx="272.2" cy="738.2" r="6.75"/>
<circle cx="273.9" cy="738.0" r="6.75"/>
<circle cx="275.5" cy="737.8" r="6.75"/>
<circle cx="277.2" cy="737.6" r="6.75"/>
<circle cx="278.8" cy="737.4" r="6.75"/>
<circle cx="280.5" cy="737.1" r="6.75"/>
<circle cx="282.1" cy="736.9" r="6.75"/>
<circle cx="283.8" cy="736.7" r="6.75"/>
<circle cx="285.4" cy="736.4" r="6.75"/>
<circle cx="287.1" cy="736.1" r="6.75"/>
<circle cx="288.7" cy="735.9" r="6.75"/>
<circle cx="290.4" cy="735.6" r="6.75"/>
<circle cx="292.0" cy="735.2" r="6.75"/>
<circle cx="293.6" cy="734.9" r="6.75"/>
<circle cx="295.3" cy="734.5" r="6.75"/>
<circle cx="296.9" cy="734.1" r="6.75"/>
<circle cx="298.6" cy="733.7" r="6.75"/>
<circle cx="300.2" cy="733.2" r="6.75"/>
<circle cx="301.9" cy="732.7" r="6.75"/>
<circle cx="303.5" cy="732.1" r="6.75"/>
</g>
<g class="n">
<circle cx="140.4" cy="743.0" r="6.75"/>
<circle cx="149.8" cy="741.7" r="6.75"/>
<circle cx="159.3" cy="740.3" r="6.75"/>
<circle cx="168.7" cy="738.9" r="6.75"/>
<circle cx="178.1" cy="737.6" r="6.75"/>
<circle cx="187.5" cy="736.2" r="6.75"/>
<circle cx="197.0" cy="734.8" r="6.75"/>
<circle cx="206.4" cy="733.4" r="6.75"/>
<circle cx="215.8" cy="732.0" r="6.75"/>
<circle cx="225.3" cy="730.6" r="6.75"/>
<circle cx="234.7" cy="729.2" r="6.75"/>
<circle cx="244.1" cy="727.7" r="6.75"/>
<circle cx="253.5" cy="726.3" r="6.75"/>
<circle cx="263.0" cy="724.8" r="6.75"/>
<circle cx="272.4" cy="723.4" r="6.75"/>
<circle cx="281.8" cy="721.9" r="6.75"/>
<circle cx="291.2" cy="720.4" r="6.75"/>
<circle cx="300.7" cy="718.9" r="6.75"/>
<circle cx="310.1" cy="717.5" r="6.75"/>
<circle cx="319.5" cy="716.0" r="6.75"/>
<circle cx="329.0" cy="714.4" r="6.75"/>
<circle cx="338.4" cy="712.9" r="6.75"/>
<circle cx="347.8" cy="711.4" r="6.75"/>
<circle cx="357.2" cy="709.8" r="6.75"/>
<circle cx="366.7" cy="708.3" r="6.75"/>
<circle cx="376.1" cy="706.7" r="6.75"/>
<circle cx="385.5" cy="705.2" r="6.75"/>
<circle cx="395.0" cy="703.6" r="6.75"/>
<circle cx="404.4" cy="702.0" r="6.75"/>
<circle cx="413.8" cy="700.4" r="6.75"/>
<circle cx="423.2" cy="698.8" r="6.75"/>
<circle cx="432.7" cy="697.2" r="6.75"/>
<circle cx="442.1" cy="695.5" r="6.75"/>
<circle cx="451.5" cy="693.9" r="6.75"/>
<circle cx="461.0" cy="692.2" r="6.75"/>
<circle cx="470.4" cy="690.6" r="6.75"/>
<circle cx="479.8" cy="688.9" r="6.75"/>
<circle cx="489.2" cy="687.2" r="6.75"/>
<circle cx="498.7" cy="685.5" r="6.75"/>
<circle cx="508.1" cy="683.8" r="6.75"/>
<circle cx="517.5" cy="682.1" r="6.75"/>
<circle cx="526.9" cy="680.3" r="6.75"/>
<circle cx="536.4" cy="678.6" r="6.75"/>
<circle cx="545.8" cy="676.8" r="6.75"/>
<circle cx="555.2" cy="675.1" r="6.75"/>
<circle cx="564.7" cy="673.3" r="6.75"/>
<circle cx="574.1" cy="671.5" r="6.75"/>
<circle cx="583.5" cy="669.7" r="6.75"/>
<circle cx="592.9" cy="667.9" r="6.75"/>
<circle cx="602.4" cy="666.1" r="6.75"/>
<circle cx="611.8" cy="664.2" r="6.75"/>
<circle cx="621.2" cy="662.4" r="6.75"/>
<circle cx="630.7" cy="660.5" r="6.75"/>
<circle cx="640.1" cy="658.6" r="6.75"/>
<circle cx="649.5" cy="656.7" r="6.75"/>
<circle cx="658.9" cy="654.8" r="6.75"/>
<circle cx="668.4" cy="652.9" r="6.75"/>
<circle cx="677.8" cy="651.0" r="6.75"/>
<circle cx="687.2" cy="649.0" r="6.75"/>
<circle cx="696.7" cy="647.1" r="6.75"/>
<circle cx="706.1" cy="645.1" r="6.75"/>
<circle cx="715.5" cy="643.1" r="6.75"/>
<circle cx="724.9" cy="641.1" r="6.75"/>
<circle cx="734.4" cy="639.1" r="6.75"/>
<circle cx="743.8" cy="637.1" r="6.75"/>
<circle cx="753.2" cy="635.0" r="6.75"/>
<circle cx="762.7" cy="633.0" r="6.75"/>
<circle cx="772.1" cy="630.9" r="6.75"/>
<circle cx="781.5" cy="628.8" r="6.75"/>
<circle cx="790.9" cy="626.7" r="6.75"/>
<circle cx="800.4" cy="624.6" r="6.75"/>
<circle cx="809.8" cy="622.4" r="6.75"/>
<circle cx="819.2" cy="620.3" r="6.75"/>
<circle cx="828.6" cy="618.1" r="6.75"/>
<circle cx="838.1" cy="615.9" r="6.75"/>
<circle cx="847.5" cy="613.7" r="6.75"/>
<circle cx="856.9" cy="611.5" r="6.75"/>
<circle cx="866.4" cy="609.2" r="6.75"/>
<circle cx="875.8" cy="607.0" r="6.75"/>
<circle cx="885.2" cy="604.7" r="6.75"/>
<circle cx="894.6" cy="602.4" r="6.75"/>
<circle cx="904.1" cy="600.1" r="6.75"/>
<circle cx="913.5" cy="597.8" r="6.75"/>
<circle cx="922.9" cy="595.5" r="6.75"/>
<circle cx="932.4" cy="593.1" r="6.75"/>
<circle cx="941.8" cy="590.7" r="6.75"/>
<circle cx="951.2" cy="588.3" r="6.75"/>
<circle cx="960.6" cy="585.9" r="6.75"/>
<circle cx="970.1" cy="583.5" r="6.75"/>
<circle cx="979.5" cy="581.0" r="6.75"/>
<circle cx="988.9" cy="578.6" r="6.75"/>
<circle cx="998.4" cy="576.1" r="6.75"/>
<circle cx="1007.8" cy="573.5" r="6.75"/>
<circle cx="1017.2" cy="571.0" r="6.75"/>
<circle cx="1026.6" cy="568.5" r="6.75"/>
<circle cx="1036.1" cy="565.9" r="6.75"/>
<circle cx="1045.5" cy="563.3" r="6.75"/>
<circle cx="1054.9" cy="560.7" r="6.75"/>
<circle cx="1064.3" cy="558.0" r="6.75"/>
<circle cx="1073.8" cy="555.4" r="6.75"/>
<circle cx="140.4" cy="743.0" r="6.75"/>
<circle cx="145.6" cy="742.1" r="6.75"/>
<circle cx="150.9" cy="741.2" r="6.75"/>
<circle cx="156.1" cy="740.3" r="6.75"/>
<circle cx="161.3" cy="739.4" r="6.75"/>
<circle cx="166.6" cy="738.5" r="6.75"/>
<circle cx="171.8" cy="737.6" r="6.75"/>
<circle cx="177.1" cy="736.7" r="6.75"/>
<circle cx="182.3" cy="735.8" r="6.75"/>
<circle cx="187.5" cy="734.9" r="6.75"/>
<circle cx="192.8" cy="734.0" r="6.75"/>
<circle cx="198.0" cy="733.1" r="6.75"/>
<circle cx="203.2" cy="732.2" r="6.75"/>
<circle cx="208.5" cy="731.2" r="6.75"/>
<circle cx="213.7" cy="730.3" r="6.75"/>
<circle cx="219.0" cy="729.4" r="6.75"/>
<circle cx="224.2" cy="728.5" r="6.75"/>
<circle cx="229.4" cy="727.5" r="6.75"/>
<circle cx="234.7" cy="726.6" r="6.75"/>
<circle cx="239.9" cy="725.7" r="6.75"/>
<circle cx="245.1" cy="724.7" r="6.75"/>
<circle cx="250.4" cy="723.8" r="6.75"/>
<circle cx="255.6" cy="722.8" r="6.75"/>
<circle cx="260.9" cy="721.9" r="6.75"/>
<circle cx="266.1" cy="720.9" r="6.75"/>
<circle cx="271.3" cy="719.9" r="6.75"/>
<circle cx="276.6" cy="719.0" r="6.75"/>
<circle cx="281.8" cy="718.0" r="6.75"/>
<circle cx="287.0" cy="717.0" r="6.75"/>
<circle cx="292.3" cy="716.1" r="6.75"/>
<circle cx="297.5" cy="715.1" r="6.75"/>
<circle cx="302.7" cy="714.1" r="6.75"/>
<circle cx="308.0" cy="713.1" r="6.75"/>
<circle cx="313.2" cy="712.1" r="6.75"/>
<circle cx="318.5" cy="711.2" r="6.75"/>
<circle cx="323.7" cy="710.2" r="6.75"/>
<circle cx="328.9" cy="709.2" r="6.75"/>
<circle cx="334.2" cy="708.2" r="6.75"/>
<circle cx="339.4" cy="707.2" r="6.75"/>
<circle cx="344.6" cy="706.2" r="6.75"/>
<circle cx="349.9" cy="705.1" r="6.75"/>
<circle cx="355.1" cy="704.1" r="6.75"/>
<circle cx="360.4" cy="703.1" r="6.75"/>
<circle cx="365.6" cy="702.1" r="6.75"/>
<circle cx="370.8" cy="701.1" r="6.75"/>
<circle cx="376.1" cy="700.0" r="6.75"/>
<circle cx="381.3" cy="699.0" r="6.75"/>
<circle cx="386.5" cy="698.0" r="6.75"/>
<circle cx="391.8" cy="696.9" r="6.75"/>
<circle cx="397.0" cy="695.9" r="6.75"/>
<circle cx="402.3" cy="694.8" r="6.75"/>
<circle cx="407.5" cy="693.8" r="6.75"/>
<circle cx="412.7" cy="692.7" r="6.75"/>
<circle cx="418.0" cy="691.7" r="6.75"/>
<circle cx="423.2" cy="690.6" r="6.75"/>
<circle cx="428.4" cy="689.5" r="6.75"/>
<circle cx="433.7" cy="688.5" r="6.75"/>
<circle cx="438.9" cy="687.4" r="6.75"/>
<circle cx="444.2" cy="686.3" r="6.75"/>
<circle cx="449.4" cy="685.2" r="6.75"/>
<circle cx="454.6" cy="684.2" r="6.75"/>
<circle cx="459.9" cy="683.1" r="6.75"/>
<circle cx="465.1" cy="682.0" r="6.75"/>
<circle cx="470.3" cy="680.9" r="6.75"/>
<circle cx="475.6" cy="679.8" r="6.75"/>
<circle cx="480.8" cy="678.7" r="6.75"/>
<circle cx="486.0" cy="677.6" r="6.75"/>
<circle cx="491.3" cy="676.5" r="6.75"/>
<circle cx="496.5" cy="675.3" r="6.75"/>
<circle cx="501.8" cy="674.2" r="6.75"/>
<circle cx="507.0" cy="673.1" r="6.75"/>
<circle cx="512.2" cy="672.0" r="6.75"/>
<circle cx="517.5" cy="670.8" r="6.75"/>
<circle cx="522.7" cy="669.7" r="6.75"/>
<circle cx="527.9" cy="668.5" r="6.75"/>
<circle cx="533.2" cy="667.4" r="6.75"/>
<circle cx="538.4" cy="666.2" r="6.75"/>
<circle cx="543.7" cy="665.1" r="6.75"/>
<circle cx="548.9" cy="663.9" r="6.75"/>
<circle cx="554.1" cy="662.8" r="6.75"/>
<circle cx="559.4" cy="661.6" r="6.75"/>
<circle cx="564.6" cy="660.4" r="6.75"/>
<circle cx="569.8" cy="659.2" r="6.75"/>
<circle cx="575.1" cy="658.1" r="6.75"/>
<circle cx="580.3" cy="656.9" r="6.75"/>
<circle cx="585.6" cy="655.7" r="6.75"/>
<circle cx="590.8" cy="654.5" r="6.75"/>
<circle cx="596.0" cy="653.3" r="6.75"/>
<circle cx="601.3" cy="652.1" r="6.75"/>
<circle cx="606.5" cy="650.9" r="6.75"/>
<circle cx="611.7" cy="649.7" r="6.75"/>
<circle cx="617.0" cy="648.5" r="6.75"/>
<circle cx="622.2" cy="647.2" r="6.75"/>
<circle cx="627.4" cy="646.0" r="6.75"/>
<circle cx="632.7" cy="644.8" r="6.75"/>
<circle cx="637.9" cy="643.5" r="6.75"/>
<circle cx="643.2" cy="642.3" r="6.75"/>
<circle cx="648.4" cy="641.0" r="6.75"/>
<circle cx="653.6" cy="639.8" r="6.75"/>
<circle cx="658.9" cy="638.5" r="6.75"/>
<circle cx="140.4" cy="743.0" r="6.75"/>
<circle cx="144.9" cy="742.2" r="6.75"/>
<circle cx="149.5" cy="741.4" r="6.75"/>
<circle cx="154.0" cy="740.6" r="6.75"/>
<circle cx="158.5" cy="739.8" r="6.75"/>
<circle cx="163.0" cy="739.0" r="6.75"/>
<circle cx="167.6" cy="738.2" r="6.75"/>
<circle cx="172.1" cy="737.4" r="6.75"/>
<circle cx="176.6" cy="736.6" r="6.75"/>
<circle cx="181.1" cy="735.8" r="6.75"/>
<circle cx="185.7" cy="735.0" r="6.75"/>
<circle cx="190.2" cy="734.2" r="6.75"/>
<circle cx="194.7" cy="733.4" r="6.75"/>
<circle cx="199.3" cy="732.6" r="6.75"/>
<circle cx="203.8" cy="731.8" r="6.75"/>
<circle cx="208.3" cy="731.0" r="6.75"/>
<circle cx="212.8" cy="730.1" r="6.75"/>
<circle cx="217.4" cy="729.3" r="6.75"/>
<circle cx="221.9" cy="728.5" r="6.75"/>
<circle cx="226.4" cy="727.7" r="6.75"/>
<circle cx="231.0" cy="726.8" r="6.75"/>
<circle cx="235.5" cy="726.0" r="6.75"/>
<circle cx="240.0" cy="725.2" r="6.75"/>
<circle cx="244.5" cy="724.3" r="6.75"/>
<circle cx="249.1" cy="723.5" r="6.75"/>
<circle cx="253.6" cy="722.7" r="6.75"/>
<circle cx="258.1" cy="721.8" r="6.75"/>
<circle cx="262.6" cy="721.0" r="6.75"/>
<circle cx="267.2" cy="720.1" r="6.75"/>
<circle cx="271.7" cy="719.3" r="6.75"/>
<circle cx="276.2" cy="718.4" r="6.75"/>
<circle cx="280.8" cy="717.6" r="6.75"/>
<circle cx="285.3" cy="716.7" r="6.75"/>
<circle cx="289.8" cy="715.8" r="6.75"/>
<circle cx="294.3" cy="715.0" r="6.75"/>
<circle cx="298.9" cy="714.1" r="6.75"/>
<circle cx="303.4" cy="713.2" r="6.75"/>
<circle cx="307.9" cy="712.4" r="6.75"/>
<circle cx="312.4" cy="711.5" r="6.75"/>
<circle cx="317.0" cy="710.6" r="6.75"/>
<circle cx="321.5" cy="709.7" r="6.75"/>
<circle cx="326.0" cy="708.8" r="6.75"/>
<circle cx="330.6" cy="708.0" r="6.75"/>
<circle cx="335.1" cy="707.1" r="6.75"/>
<circle cx="339.6" cy="706.2" r="6.75"/>
<circle cx="344.1" cy="705.3" r="6.75"/>
<circle cx="348.7" cy="704.4" r="6.75"/>
<circle cx="353.2" cy="703.5" r="6.75"/>
<circle cx="357.7" cy="702.6" r="6.75"/>
<circle cx="362.3" cy="701.7" r="6.75"/>
<circle cx="366.8" cy="700.8" r="6.75"/>
<circle cx="371.3" cy="699.9" r="6.75"/>
<circle cx="375.8" cy="698.9" r="6.75"/>
<circle cx="380.4" cy="698.0" r="6.75"/>
<circle cx="384.9" cy="697.1" r="6.75"/>
<circle cx="389.4" cy="696.2" r="6.75"/>
<circle cx="393.9" cy="695.3" r="6.75"/>
<circle cx="398.5" cy="694.3" r="6.75"/>
<circle cx="403.0" cy="693.4" r="6.75"/>
<circle cx="407.5" cy="692.5" r="6.75"/>
<circle cx="412.1" cy="691.5" r="6.75"/>
<circle cx="416.6" cy="690.6" r="6.75"/>
<circle cx="421.1" cy="689.7" r="6.75"/>
<circle cx="425.6" cy="688.7" r="6.75"/>
<circle cx="430.2" cy="687.8" r="6.75"/>
<circle cx="434.7" cy="686.8" r="6.75"/>
<circle cx="439.2" cy="685.9" r="6.75"/>
<circle cx="443.7" cy="684.9" r="6.75"/>
<circle cx="448.3" cy="684.0" r="6.75"/>
<circle cx="452.8" cy="683.0" r="6.75"/>
<circle cx="457.3" cy="682.0" r="6.75"/>
<circle cx="461.9" cy="681.1" r="6.75"/>
<circle cx="466.4" cy="680.1" r="6.75"/>
<circle cx="470.9" cy="679.1" r="6.75"/>
<circle cx="475.4" cy="678.1" r="6.75"/>
<circle cx="480.0" cy="677.2" r="6.75"/>
<circle cx="484.5" cy="676.2" r="6.75"/>
<circle cx="489.0" cy="675.2" r="6.75"/>
<circle cx="493.6" cy="674.2" r="6.75"/>
<circle cx="498.1" cy="673.2" r="6.75"/>
<circle cx="502.6" cy="672.2" r="6.75"/>
<circle cx="507.1" cy="671.2" r="6.75"/>
<circle cx="511.7" cy="670.2" r="6.75"/>
<circle cx="516.2" cy="669.2" r="6.75"/>
<circle cx="520.7" cy="668.2" r="6.75"/>
<circle cx="525.2" cy="667.2" r="6.75"/>
<circle cx="529.8" cy="666.2" r="6.75"/>
<circle cx="534.3" cy="665.1" r="6.75"/>
<circle cx="538.8" cy="664.1" r="6.75"/>
<circle cx="543.4" cy="663.1" r="6.75"/>
<circle cx="547.9" cy="662.1" r="6.75"/>
<circle cx="552.4" cy="661.0" r="6.75"/>
<circle cx="556.9" cy="660.0" r="6.75"/>
<circle cx="561.5" cy="659.0" r="6.75"/>
<circle cx="566.0" cy="657.9" r="6.75"/>
<circle cx="570.5" cy="656.9" r="6.75"/>
<circle cx="575.0" cy="655.8" r="6.75"/>
<circle cx="579.6" cy="654.8" r="6.75"/>
<circle cx="584.1" cy="653.7" r="6.75"/>
<circle cx="588.6" cy="652.7" r="6.75"/>
<circle cx="140.4" cy="743.0" r="6.75"/>
<circle cx="144.9" cy="742.2" r="6.75"/>
<circle cx="149.4" cy="741.4" r="6.75"/>
<circle cx="153.9" cy="740.6" r="6.75"/>
<circle cx="158.4" cy="739.9" r="6.75"/>
<circle cx="162.9" cy="739.1" r="6.75"/>
<circle cx="167.4" cy="738.3" r="6.75"/>
<circle cx="171.9" cy="737.5" r="6.75"/>
<circle cx="176.4" cy="736.7" r="6.75"/>
<circle cx="180.9" cy="735.9" r="6.75"/>
<circle cx="185.4" cy="735.1" r="6.75"/>
<circle cx="189.9" cy="734.3" r="6.75"/>
<circle cx="194.4" cy="733.5" r="6.75"/>
<circle cx="198.8" cy="732.7" r="6.75"/>
<circle cx="203.3" cy="731.9" r="6.75"/>
<circle cx="207.8" cy="731.0" r="6.75"/>
<circle cx="212.3" cy="730.2" r="6.75"/>
<circle cx="216.8" cy="729.4" r="6.75"/>
<circle cx="221.3" cy="728.6" r="6.75"/>
<circle cx="225.8" cy="727.8" r="6.75"/>
<circle cx="230.3" cy="726.9" r="6.75"/>
<circle cx="234.8" cy="726.1" r="6.75"/>
<circle cx="239.3" cy="725.3" r="6.75"/>
<circle cx="243.8" cy="724.5" r="6.75"/>
<circle cx="248.3" cy="723.6" r="6.75"/>
<circle cx="252.8" cy="722.8" r="6.75"/>
<circle cx="257.3" cy="721.9" r="6.75"/>
<circle cx="261.8" cy="721.1" r="6.75"/>
<circle cx="266.3" cy="720.3" r="6.75"/>
<circle cx="270.8" cy="719.4" r="6.75"/>
<circle cx="275.3" cy="718.6" r="6.75"/>
<circle cx="279.8" cy="717.7" r="6.75"/>
<circle cx="284.3" cy="716.9" r="6.75"/>
<circle cx="288.8" cy="716.0" r="6.75"/>
<circle cx="293.3" cy="715.1" r="6.75"/>
<circle cx="297.8" cy="714.3" r="6.75"/>
<circle cx="302.3" cy="713.4" r="6.75"/>
<circle cx="306.8" cy="712.5" r="6.75"/>
<circle cx="311.3" cy="711.7" r="6.75"/>
<circle cx="315.7" cy="710.8" r="6.75"/>
<circle cx="320.2" cy="709.9" r="6.75"/>
<circle cx="324.7" cy="709.1" r="6.75"/>
<circle cx="329.2" cy="708.2" r="6.75"/>
<circle cx="333.7" cy="707.3" r="6.75"/>
<circle cx="338.2" cy="706.4" r="6.75"/>
<circle cx="342.7" cy="705.5" r="6.75"/>
<circle cx="347.2" cy="704.6" r="6.75"/>
<circle cx="351.7" cy="703.7" r="6.75"/>
<circle cx="356.2" cy="702.8" r="6.75"/>
<circle cx="360.7" cy="701.9" r="6.75"/>
<circle cx="365.2" cy="701.0" r="6.75"/>
<circle cx="369.7" cy="700.1" r="6.75"/>
<circle cx="374.2" cy="699.2" r="6.75"/>
<circle cx="378.7" cy="698.3" r="6.75"/>
<circle cx="383.2" cy="697.4" r="6.75"/>
<circle cx="387.7" cy="696.5" r="6.75"/>
<circle cx="392.2" cy="695.6" r="6.75"/>
<circle cx="396.7" cy="694.7" r="6.75"/>
<circle cx="401.2" cy="693.7" r="6.75"/>
<circle cx="405.7" cy="692.8" r="6.75"/>
<circle cx="410.2" cy="691.9" r="6.75"/>
<circle cx="414.7" cy="690.9" r="6.75"/>
<circle cx="419.2" cy="690.0" r="6.75"/>
<circle cx="423.7" cy="689.1" r="6.75"/>
<circle cx="428.2" cy="688.1" r="6.75"/>
<circle cx="432.6" cy="687.2" r="6.75"/>
<circle cx="437.1" cy="686.2" r="6.75"/>
<circle cx="441.6" cy="685.3" r="6.75"/>
<circle cx="446.1" cy="684.3" r="6.75"/>
<circle cx="450.6" cy="683.4" r="6.75"/>
<circle cx="455.1" cy="682.4" r="6.75"/>
<circle cx="459.6" cy="681.5" r="6.75"/>
<circle cx="464.1" cy="680.5" r="6.75"/>
<circle cx="468.6" cy="679.5" r="6.75"/>
<circle cx="473.1" cy="678.6" r="6.75"/>
<circle cx="477.6" cy="677.6" r="6.75"/>
<circle cx="482.1" cy="676.6" r="6.75"/>
<circle cx="486.6" cy="675.6" r="6.75"/>
<circle cx="491.1" cy="674.7" r="6.75"/>
<circle cx="495.6" cy="673.7" r="6.75"/>
<circle cx="500.1" cy="672.7" r="6.75"/>
<circle cx="504.6" cy="671.7" r="6.75"/>
<circle cx="509.1" cy="670.7" r="6.75"/>
<circle cx="513.6" cy="669.7" r="6.75"/>
<circle cx="518.1" cy="668.7" r="6.75"/>
<circle cx="522.6" cy="667.7" r="6.75"/>
<circle cx="527.1" cy="666.7" r="6.75"/>
<circle cx="531.6" cy="665.7" r="6.75"/>
<circle cx="536.1" cy="664.7" r="6.75"/>
<circle cx="540.6" cy="663.6" r="6.75"/>
<circle cx="545.1" cy="662.6" r="6.75"/>
<circle cx="549.5" cy="661.6" r="6.75"/>
<circle cx="554.0" cy="660.6" r="6.75"/>
<circle cx="558.5" cy="659.5" r="6.75"/>
<circle cx="563.0" cy="658.5" r="6.75"/>
<circle cx="567.5" cy="657.5" r="6.75"/>
<circle cx="572.0" cy="656.4" r="6.75"/>
<circle cx="576.5" cy="655.4" r="6.75"/>
<circle cx="581.0" cy="654.3" r="6.75"/>
<circle cx="585.5" cy="653.3" r="6.75"/>
<circle cx="140.4" cy="743.0" r="6.75"/>
<circle cx="144.2" cy="742.3" r="6.75"/>
<circle cx="147.9" cy="741.7" r="6.75"/>
<circle cx="151.7" cy="741.0" r="6.75"/>
<circle cx="155.4" cy="740.3" r="6.75"/>
<circle cx="159.2" cy="739.6" r="6.75"/>
<circle cx="162.9" cy="739.0" r="6.75"/>
<circle cx="166.7" cy="738.3" r="6.75"/>
<circle cx="170.4" cy="737.6" r="6.75"/>
<circle cx="174.2" cy="736.9" r="6.75"/>
<circle cx="177.9" cy="736.2" r="6.75"/>
<circle cx="181.7" cy="735.5" r="6.75"/>
<circle cx="185.5" cy="734.9" r="6.75"/>
<circle cx="189.2" cy="734.2" r="6.75"/>
<circle cx="193.0" cy="733.5" r="6.75"/>
<circle cx="196.7" cy="732.8" r="6.75"/>
<circle cx="200.5" cy="732.1" r="6.75"/>
<circle cx="204.2" cy="731.4" r="6.75"/>
<circle cx="208.0" cy="730.7" r="6.75"/>
<circle cx="211.7" cy="730.0" r="6.75"/>
<circle cx="215.5" cy="729.3" r="6.75"/>
<circle cx="219.2" cy="728.6" r="6.75"/>
<circle cx="223.0" cy="727.9" r="6.75"/>
<circle cx="226.8" cy="727.2" r="6.75"/>
<circle cx="230.5" cy="726.5" r="6.75"/>
<circle cx="234.3" cy="725.8" r="6.75"/>
<circle cx="238.0" cy="725.1" r="6.75"/>
<circle cx="241.8" cy="724.3" r="6.75"/>
<circle cx="245.5" cy="723.6" r="6.75"/>
<circle cx="249.3" cy="722.9" r="6.75"/>
<circle cx="253.0" cy="722.2" r="6.75"/>
<circle cx="256.8" cy="721.5" r="6.75"/>
<circle cx="260.5" cy="720.8" r="6.75"/>
<circle cx="264.3" cy="720.0" r="6.75"/>
<circle cx="268.1" cy="719.3" r="6.75"/>
<circle cx="271.8" cy="718.6" r="6.75"/>
<circle cx="275.6" cy="717.8" r="6.75"/>
<circle cx="279.3" cy="717.1" r="6.75"/>
<circle cx="283.1" cy="716.4" r="6.75"/>
<circle cx="286.8" cy="715.7" r="6.75"/>
<circle cx="290.6" cy="714.9" r="6.75"/>
<circle cx="294.3" cy="714.2" r="6.75"/>
<circle cx="298.1" cy="713.4" r="6.75"/>
<circle cx="301.8" cy="712.7" r="6.75"/>
<circle cx="305.6" cy="712.0" r="6.75"/>
<circle cx="309.4" cy="711.2" r="6.75"/>
<circle cx="313.1" cy="710.5" r="6.75"/>
<circle cx="316.9" cy="709.7" r="6.75"/>
<circle cx="320.6" cy="709.0" r="6.75"/>
<circle cx="324.4" cy="708.2" r="6.75"/>
<circle cx="328.1" cy="707.5" r="6.75"/>
<circle cx="331.9" cy="706.7" r="6.75"/>
<circle cx="335.6" cy="705.9" r="6.75"/>
<circle cx="339.4" cy="705.2" r="6.75"/>
<circle cx="343.1" cy="704.4" r="6.75"/>
<circle cx="346.9" cy="703.7" r="6.75"/>
<circle cx="350.7" cy="702.9" r="6.75"/>
<circle cx="354.4" cy="702.1" r="6.75"/>
<circle cx="358.2" cy="701.4" r="6.75"/>
<circle cx="361.9" cy="700.6" r="6.75"/>
<circle cx="365.7" cy="699.8" r="6.75"/>
<circle cx="369.4" cy="699.0" r="6.75"/>
<circle cx="373.2" cy="698.3" r="6.75"/>
<circle cx="376.9" cy="697.5" r="6.75"/>
<circle cx="380.7" cy="696.7" r="6.75"/>
<circle cx="384.4" cy="695.9" r="6.75"/>
<circle cx="388.2" cy="695.1" r="6.75"/>
<circle cx="392.0" cy="694.3" r="6.75"/>
<circle cx="395.7" cy="693.6" r="6.75"/>
<circle cx="399.5" cy="692.8" r="6.75"/>
<circle cx="403.2" cy="692.0" r="6.75"/>
<circle cx="407.0" cy="691.2" r="6.75"/>
<circle cx="410.7" cy="690.4" r="6.75"/>
<circle cx="414.5" cy="689.6" r="6.75"/>
<circle cx="418.2" cy="688.8" r="6.75"/>
<circle cx="422.0" cy="688.0" r="6.75"/>
<circle cx="425.7" cy="687.2" r="6.75"/>
<circle cx="429.5" cy="686.4" r="6.75"/>
<circle cx="433.3" cy="685.6" r="6.75"/>
<circle cx="437.0" cy="684.7" r="6.75"/>
<circle cx="440.8" cy="683.9" r="6.75"/>
<circle cx="444.5" cy="683.1" r="6.75"/>
<circle cx="448.3" cy="682.3" r="6.75"/>
<circle cx="452.0" cy="681.5" r="6.75"/>
<circle cx="455.8" cy="680.7" r="6.75"/>
<circle cx="459.5" cy="679.8" r="6.75"/>
<circle cx="463.3" cy="679.0" r="6.75"/>
<circle cx="467.0" cy="678.2" r="6.75"/>
<circle cx="470.8" cy="677.3" r="6.75"/>
<circle cx="474.6" cy="676.5" r="6.75"/>
<circle cx="478.3" cy="675.7" r="6.75"/>
<circle cx="482.1" cy="674.8" r="6.75"/>
<circle cx="485.8" cy="674.0" r="6.75"/>
<circle cx="489.6" cy="673.2" r="6.75"/>
<circle cx="493.3" cy="672.3" r="6.75"/>
<circle cx="497.1" cy="671.5" r="6.75"/>
<circle cx="500.8" cy="670.6" r="6.75"/>
<circle cx="504.6" cy="669.8" r="6.75"/>
<circle cx="508.3" cy="668.9" r="6.75"/>
<circle cx="512.1" cy="668.1" r="6.75"/>
<circle cx="140.4" cy="743.0" r="6.75"/>
<circle cx="143.3" cy="742.5" r="6.75"/>
<circle cx="146.3" cy="741.9" r="6.75"/>
<circle cx="149.2" cy="741.4" r="6.75"/>
<circle cx="152.1" cy="740.8" r="6.75"/>
<circle cx="155.1" cy="740.3" r="6.75"/>
<circle cx="158.0" cy="739.8" r="6.75"/>
<circle cx="161.0" cy="739.2" r="6.75"/>
<circle cx="163.9" cy="738.7" r="6.75"/>
<circle cx="166.8" cy="738.1" r="6.75"/>
<circle cx="169.8" cy="737.6" r="6.75"/>
<circle cx="172.7" cy="737.0" r="6.75"/>
<circle cx="175.6" cy="736.5" r="6.75"/>
<circle cx="178.6" cy="735.9" r="6.75"/>
<circle cx="181.5" cy="735.4" r="6.75"/>
<circle cx="184.4" cy="734.8" r="6.75"/>
<circle cx="187.4" cy="734.3" r="6.75"/>
<circle cx="190.3" cy="733.7" r="6.75"/>
<circle cx="193.3" cy="733.1" r="6.75"/>
<circle cx="196.2" cy="732.6" r="6.75"/>
<circle cx="199.1" cy="732.0" r="6.75"/>
<circle cx="202.1" cy="731.5" r="6.75"/>
<circle cx="205.0" cy="730.9" r="6.75"/>
<circle cx="207.9" cy="730.3" r="6.75"/>
<circle cx="210.9" cy="729.8" r="6.75"/>
<circle cx="213.8" cy="729.2" r="6.75"/>
<circle cx="216.7" cy="728.7" r="6.75"/>
<circle cx="219.7" cy="728.1" r="6.75"/>
<circle cx="222.6" cy="727.5" r="6.75"/>
<circle cx="225.6" cy="727.0" r="6.75"/>
<circle cx="228.5" cy="726.4" r="6.75"/>
<circle cx="231.4" cy="725.8" r="6.75"/>
<circle cx="234.4" cy="725.2" r="6.75"/>
<circle cx="237.3" cy="724.7" r="6.75"/>
<circle cx="240.2" cy="724.1" r="6.75"/>
<circle cx="243.2" cy="723.5" r="6.75"/>
<circle cx="246.1" cy="723.0" r="6.75"/>
<circle cx="249.0" cy="722.4" r="6.75"/>
<circle cx="252.0" cy="721.8" r="6.75"/>
<circle cx="254.9" cy="721.2" r="6.75"/>
<circle cx="257.8" cy="720.6" r="6.75"/>
<circle cx="260.8" cy="720.1" r="6.75"/>
<circle cx="263.7" cy="719.5" r="6.75"/>
<circle cx="266.7" cy="718.9" r="6.75"/>
<circle cx="269.6" cy="718.3" r="6.75"/>
<circle cx="272.5" cy="717.7" r="6.75"/>
<circle cx="275.5" cy="717.1" r="6.75"/>
<circle cx="278.4" cy="716.6" r="6.75"/>
<circle cx="281.3" cy="716.0" r="6.75"/>
<circle cx="284.3" cy="715.4" r="6.75"/>
<circle cx="287.2" cy="714.8" r="6.75"/>
<circle cx="290.1" cy="714.2" r="6.75"/>
<circle cx="293.1" cy="713.6" r="6.75"/>
<circle cx="296.0" cy="713.0" r="6.75"/>
<circle cx="299.0" cy="712.4" r="6.75"/>
<circle cx="301.9" cy="711.8" r="6.75"/>
<circle cx="304.8" cy="711.2" r="6.75"/>
<circle cx="307.8" cy="710.6" r="6.75"/>
<circle cx="310.7" cy="710.0" r="6.75"/>
<circle cx="313.6" cy="709.4" r="6.75"/>
<circle cx="316.6" cy="708.8" r="6.75"/>
<circle cx="319.5" cy="708.2" r="6.75"/>
<circle cx="322.4" cy="707.6" r="6.75"/>
<circle cx="325.4" cy="707.0" r="6.75"/>
<circle cx="328.3" cy="706.4" r="6.75"/>
<circle cx="331.3" cy="705.8" r="6.75"/>
<circle cx="334.2" cy="705.2" r="6.75"/>
<circle cx="337.1" cy="704.6" r="6.75"/>
<circle cx="340.1" cy="704.0" r="6.75"/>
<circle cx="343.0" cy="703.3" r="6.75"/>
<circle cx="345.9" cy="702.7" r="6.75"/>
<circle cx="348.9" cy="702.1" r="6.75"/>
<circle cx="351.8" cy="701.5" r="6.75"/>
<circle cx="354.7" cy="700.9" r="6.75"/>
<circle cx="357.7" cy="700.3" r="6.75"/>
<circle cx="360.6" cy="699.6" r="6.75"/>
<circle cx="363.6" cy="699.0" r="6.75"/>
<circle cx="366.5" cy="698.4" r="6.75"/>
<circle cx="369.4" cy="697.8" r="6.75"/>
<circle cx="372.4" cy="697.1" r="6.75"/>
<circle cx="375.3" cy="696.5" r="6.75"/>
<circle cx="378.2" cy="695.9" r="6.75"/>
<circle cx="381.2" cy="695.3" r="6.75"/>
<circle cx="384.1" cy="694.6" r="6.75"/>
<circle cx="387.0" cy="694.0" r="6.75"/>
<circle cx="390.0" cy="693.4" r="6.75"/>
<circle cx="392.9" cy="692.7" r="6.75"/>
<circle cx="395.9" cy="692.1" r="6.75"/>
<circle cx="398.8" cy="691.5" r="6.75"/>
<circle cx="401.7" cy="690.8" r="6.75"/>
<circle cx="404.7" cy="690.2" r="6.75"/>
<circle cx="407.6" cy="689.5" r="6.75"/>
<circle cx="410.5" cy="688.9" r="6.75"/>
<circle cx="413.5" cy="688.3" r="6.75"/>
<circle cx="416.4" cy="687.6" r="6.75"/>
<circle cx="419.3" cy="687.0" r="6.75"/>
<circle cx="422.3" cy="686.3" r="6.75"/>
<circle cx="425.2" cy="685.7" r="6.75"/>
<circle cx="428.2" cy="685.0" r="6.75"/>
<circle cx="431.1" cy="684.4" r="6.75"/>
<circle cx="140.4" cy="743.0" r="6.75"/>
<circle cx="142.0" cy="742.7" r="6.75"/>
<circle cx="143.7" cy="742.4" r="6.75"/>
<circle cx="145.3" cy="742.1" r="6.75"/>
<circle cx="147.0" cy="741.7" r="6.75"/>
<circle cx="148.6" cy="741.4" r="6.75"/>
<circle cx="150.3" cy="741.1" r="6.75"/>
<circle cx="151.9" cy="740.8" r="6.75"/>
<circle cx="153.6" cy="740.5" r="6.75"/>
<circle cx="155.2" cy="740.1" r="6.75"/>
<circle cx="156.9" cy="739.8" r="6.75"/>
<circle cx="158.5" cy="739.5" r="6.75"/>
<circle cx="160.2" cy="739.2" r="6.75"/>
<circle cx="161.8" cy="738.9" r="6.75"/>
<circle cx="163.5" cy="738.6" r="6.75"/>
<circle cx="165.1" cy="738.2" r="6.75"/>
<circle cx="166.8" cy="737.9" r="6.75"/>
<circle cx="168.4" cy="737.6" r="6.75"/>
<circle cx="170.1" cy="737.3" r="6.75"/>
<circle cx="171.7" cy="736.9" r="6.75"/>
<circle cx="173.4" cy="736.6" r="6.75"/>
<circle cx="175.0" cy="736.3" r="6.75"/>
<circle cx="176.7" cy="736.0" r="6.75"/>
<circle cx="178.3" cy="735.7" r="6.75"/>
<circle cx="179.9" cy="735.3" r="6.75"/>
<circle cx="181.6" cy="735.0" r="6.75"/>
<circle cx="183.2" cy="734.7" r="6.75"/>
<circle cx="184.9" cy="734.4" r="6.75"/>
<circle cx="186.5" cy="734.0" r="6.75"/>
<circle cx="188.2" cy="733.7" r="6.75"/>
<circle cx="189.8" cy="733.4" r="6.75"/>
<circle cx="191.5" cy="733.1" r="6.75"/>
<circle cx="193.1" cy="732.7" r="6.75"/>
<circle cx="194.8" cy="732.4" r="6.75"/>
<circle cx="196.4" cy="732.1" r="6.75"/>
<circle cx="198.1" cy="731.8" r="6.75"/>
<circle cx="199.7" cy="731.4" r="6.75"/>
<circle cx="201.4" cy="731.1" r="6.75"/>
<circle cx="203.0" cy="730.8" r="6.75"/>
<circle cx="204.7" cy="730.4" r="6.75"/>
<circle cx="206.3" cy="730.1" r="6.75"/>
<circle cx="208.0" cy="729.8" r="6.75"/>
<circle cx="209.6" cy="729.5" r="6.75"/>
<circle cx="211.3" cy="729.1" r="6.75"/>
<circle cx="212.9" cy="728.8" r="6.75"/>
<circle cx="214.6" cy="728.5" r="6.75"/>
<circle cx="216.2" cy="728.1" r="6.75"/>
<circle cx="217.8" cy="727.8" r="6.75"/>
<circle cx="219.5" cy="727.5" r="6.75"/>
<circle cx="221.1" cy="727.1" r="6.75"/>
<circle cx="222.8" cy="726.8" r="6.75"/>
<circle cx="224.4" cy="726.5" r="6.75"/>
<circle cx="226.1" cy="726.1" r="6.75"/>
<circle cx="227.7" cy="725.8" r="6.75"/>
<circle cx="229.4" cy="725.5" r="6.75"/>
<circle cx="231.0" cy="725.1" r="6.75"/>
<circle cx="232.7" cy="724.8" r="6.75"/>
<circle cx="234.3" cy="724.5" r="6.75"/>
<circle cx="236.0" cy="724.1" r="6.75"/>
<circle cx="237.6" cy="723.8" r="6.75"/>
<circle cx="239.3" cy="723.5" r="6.75"/>
<circle cx="240.9" cy="723.1" r="6.75"/>
<circle cx="242.6" cy="722.8" r="6.75"/>
<circle cx="244.2" cy="722.5" r="6.75"/>
<circle cx="245.9" cy="722.1" r="6.75"/>
<circle cx="247.5" cy="721.8" r="6.75"/>
<circle cx="249.2" cy="721.4" r="6.75"/>
<circle cx="250.8" cy="721.1" r="6.75"/>
<circle cx="252.5" cy="720.8" r="6.75"/>
<circle cx="254.1" cy="720.4" r="6.75"/>
<circle cx="255.7" cy="720.1" r="6.75"/>
<circle cx="257.4" cy="719.7" r="6.75"/>
<circle cx="259.0" cy="719.4" r="6.75"/>
<circle cx="260.7" cy="719.1" r="6.75"/>
<circle cx="262.3" cy="718.7" r="6.75"/>
<circle cx="264.0" cy="718.4" r="6.75"/>
<circle cx="265.6" cy="718.0" r="6.75"/>
<circle cx="267.3" cy="717.7" r="6.75"/>
<circle cx="268.9" cy="717.4" r="6.75"/>
<circle cx="270.6" cy="717.0" r="6.75"/>
<circle cx="272.2" cy="716.7" r="6.75"/>
<circle cx="273.9" cy="716.3" r="6.75"/>
<circle cx="275.5" cy="716.0" r="6.75"/>
<circle cx="277.2" cy="715.6" r="6.75"/>
<circle cx="278.8" cy="715.3" r="6.75"/>
<circle cx="280.5" cy="715.0" r="6.75"/>
<circle cx="282.1" cy="714.6" r="6.75"/>
<circle cx="283.8" cy="714.3" r="6.75"/>
<circle cx="285.4" cy="713.9" r="6.75"/>
<circle cx="287.1" cy="713.6" r="6.75"/>
<circle cx="288.7" cy="713.2" r="6.75"/>
<circle cx="290.4" cy="712.9" r="6.75"/>
<circle cx="292.0" cy="712.5" r="6.75"/>
<circle cx="293.6" cy="712.2" r="6.75"/>
<circle cx="295.3" cy="711.8" r="6.75"/>
<circle cx="296.9" cy="711.5" r="6.75"/>
<circle cx="298.6" cy="711.1" r="6.75"/>
<circle cx="300.2" cy="710.8" r="6.75"/>
<circle cx="301.9" cy="710.4" r="6.75"/>
<circle cx="303.5" cy="710.1" r="6.75"/>
</g>
</g>
<g class="ax" filter="url(#fa)">
<rect x="93.5" y="57.2" width="1028.5" height="720.4" fill="none" stroke="#000" stroke-width="1.9"/>
<g stroke="#000" stroke-width="1.9"><line x1="141.2" y1="777.6" x2="141.2" y2="786.1"/><line x1="300.9" y1="777.6" x2="300.9" y2="786.1"/><line x1="460.8" y1="777.6" x2="460.8" y2="786.1"/><line x1="622.1" y1="777.6" x2="622.1" y2="786.1"/><line x1="782.1" y1="777.6" x2="782.1" y2="786.1"/><line x1="943.6" y1="777.6" x2="943.6" y2="786.1"/><line x1="1103.5" y1="777.6" x2="1103.5" y2="786.1"/><line x1="84.2" y1="743.7" x2="93.5" y2="743.7"/><line x1="84.2" y1="614.3" x2="93.5" y2="614.3"/><line x1="84.2" y1="485.3" x2="93.5" y2="485.3"/><line x1="84.2" y1="356.1" x2="93.5" y2="356.1"/><line x1="84.2" y1="226.9" x2="93.5" y2="226.9"/><line x1="84.2" y1="96.1" x2="93.5" y2="96.1"/></g>
<text id="x0" x="140.20" y="812.45" font-size="23.6" text-anchor="middle" class="t">0.00</text>
<text id="x1" x="301.15" y="812.45" font-size="23.6" text-anchor="middle" class="t">0.05</text>
<text id="x2" x="461.50" y="812.45" font-size="23.6" text-anchor="middle" class="t">0.10</text>
<text id="x3" x="621.00" y="812.45" font-size="23.6" text-anchor="middle" class="t">0.15</text>
<text id="x4" x="782.60" y="812.45" font-size="23.6" text-anchor="middle" class="t">0.20</text>
<text id="x5" x="942.12" y="812.45" font-size="23.6" text-anchor="middle" class="t">0.25</text>
<text id="x6" x="1102.40" y="812.45" font-size="23.6" text-anchor="middle" class="t">0.30</text>
<text id="y0" x="76.70" y="753.00" font-size="23.6" text-anchor="end" class="u">0.0</text>
<text id="y1" x="76.10" y="623.80" font-size="23.6" text-anchor="end" class="u">0.2</text>
<text id="y2" x="76.50" y="494.75" font-size="23.6" text-anchor="end" class="u">0.4</text>
<text id="y3" x="75.20" y="364.00" font-size="23.6" text-anchor="end" class="u">0.6</text>
<text id="y4" x="75.20" y="234.90" font-size="23.6" text-anchor="end" class="u">0.8</text>
<text id="y5" x="75.20" y="105.30" font-size="23.6" text-anchor="end" class="u">1.0</text>
<text id="xl" x="607.50" y="844.40" font-size="23.7" text-anchor="middle">share of affected events</text>
<text id="yl" transform="translate(24.00,419.70) rotate(-90)" font-size="23.6" text-anchor="middle">distance</text>
<text id="ti" x="605.80" y="42.20" font-size="28.3" text-anchor="middle">Simulation: data loss</text>
<rect x="105.6" y="69.0" width="244.8" height="149.0" rx="5" ry="5" fill="#fff" fill-opacity=".8" stroke="#ccc" stroke-opacity=".8" stroke-width="2"/>
<text id="l0" x="180.20" y="96.60" font-size="23.6" letter-spacing="-.2">variable</text>
<circle cx="139.5" cy="126.7" r="8.6" fill="#1f77b4"/>
<text id="l1" x="180.10" y="132.50" font-size="23.6" letter-spacing="0.17">kl divergence</text>
<circle cx="139.5" cy="162.3" r="8.6" fill="#ff7f0e"/>
<text id="l2" x="181.00" y="168.15" font-size="23.6" letter-spacing="-0.1">js divergence</text>
<circle cx="139.5" cy="198.0" r="8.6" fill="#2ca02c"/>
<text id="l3" x="180.20" y="203.80" font-size="23.6" letter-spacing="0.2">l1 norm</text>
</g>
</svg></body></html>
